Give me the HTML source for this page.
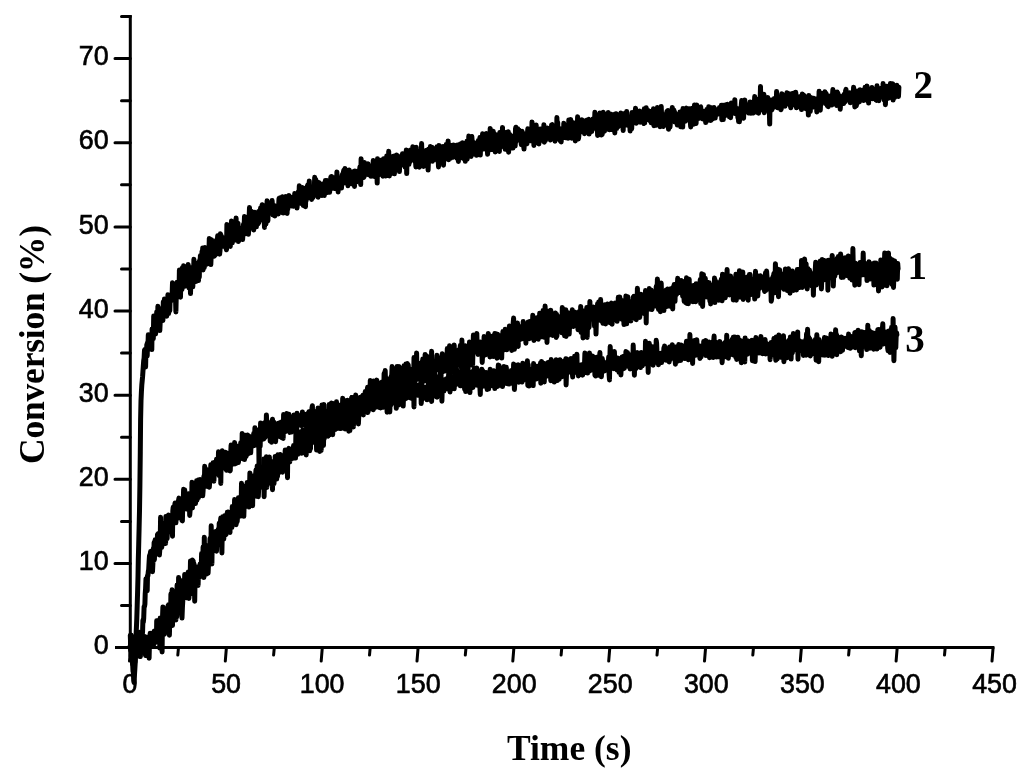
<!DOCTYPE html>
<html lang="en"><head><meta charset="utf-8"><title>Conversion vs Time</title>
<style>
html,body{margin:0;padding:0;background:#fff;}
svg{display:block}
.tk{font-family:"Liberation Sans",sans-serif;font-size:26.8px;fill:#000;stroke:#000;stroke-width:0.65px}
.lb{font-family:"Liberation Serif",serif;font-weight:bold;fill:#000}
.ax{stroke:#000;stroke-width:3;fill:none;stroke-linecap:butt}
.ax .t{stroke-width:3.0;stroke-linecap:round}
.cv{stroke:#000;stroke-width:5;fill:none;stroke-linejoin:round;stroke-linecap:round}
</style></head><body>
<svg width="1024" height="774" viewBox="0 0 1024 774">
<rect width="1024" height="774" fill="#fff"/>
<g class="ax">
<path d="M130.3,15.1 V649.1"/>
<path d="M115.0,647.6 H994.3"/>
<path class="t" d="M121.5,605.5 H130.3 M115,563.5 H130.3 M121.5,521.4 H130.3 M115,479.3 H130.3 M121.5,437.2 H130.3 M115,395.2 H130.3 M121.5,353.1 H130.3 M115,311.0 H130.3 M121.5,269.0 H130.3 M115,226.9 H130.3 M121.5,184.8 H130.3 M115,142.8 H130.3 M121.5,100.7 H130.3 M115,58.6 H130.3 M121.5,16.6 H130.3"/>
<path class="t" d="M130.6,647.6 L129.5,661.1 M178.5,647.6 L177.8,655.1 M226.4,647.6 L225.3,661.1 M274.3,647.6 L273.6,655.1 M322.3,647.6 L321.2,661.1 M370.2,647.6 L369.5,655.1 M418.1,647.6 L417.0,661.1 M466.0,647.6 L465.3,655.1 M513.9,647.6 L512.8,661.1 M561.8,647.6 L561.1,655.1 M609.8,647.6 L608.7,661.1 M657.7,647.6 L657.0,655.1 M705.6,647.6 L704.5,661.1 M753.5,647.6 L752.8,655.1 M801.4,647.6 L800.3,661.1 M849.3,647.6 L848.6,655.1 M897.2,647.6 L896.1,661.1 M945.2,647.6 L944.5,655.1 M993.1,647.6 L992.0,661.1"/>
</g>
<g class="tk" text-anchor="end">
<text x="108.6" y="654.2">0</text>
<text x="108.6" y="570.1">10</text>
<text x="108.6" y="485.9">20</text>
<text x="108.6" y="401.8">30</text>
<text x="108.6" y="317.6">40</text>
<text x="108.6" y="233.5">50</text>
<text x="108.6" y="149.4">60</text>
<text x="108.6" y="65.2">70</text>
</g>
<g class="tk" text-anchor="middle">
<text x="130.0" y="692.6">0</text>
<text x="226.1" y="692.6">50</text>
<text x="322.1" y="692.6">100</text>
<text x="418.2" y="692.6">150</text>
<text x="514.2" y="692.6">200</text>
<text x="610.2" y="692.6">250</text>
<text x="706.3" y="692.6">300</text>
<text x="802.4" y="692.6">350</text>
<text x="898.4" y="692.6">400</text>
<text x="994.5" y="692.6">450</text>
</g>
<text class="lb" font-size="35.5" text-anchor="middle" x="569.2" y="760.4">Time (s)</text>
<text class="lb" font-size="35.5" letter-spacing="-0.2" text-anchor="middle" transform="translate(43.6,344.6) rotate(-90)">Conversion (%)</text>
<text class="lb" font-size="39" x="913.5" y="97.8">2</text>
<text class="lb" font-size="39" x="907.5" y="279.3">1</text>
<text class="lb" font-size="39" x="905.2" y="352.0">3</text>
<g class="cv">
<path d="M130.3,646.5 L130.7,643.0 L131.1,644.8 L131.4,650.3 L131.8,659.1 L132.2,654.9 L132.6,662.3 L133.0,671.1 L133.4,672.7 L133.7,680.6 L134.1,682.4 L134.5,674.5 L134.9,668.2 L135.3,661.4 L135.7,651.5 L136.0,643.7 L136.4,648.4 L136.8,647.4 L137.2,651.6 L137.6,647.3 L138.0,646.6 L138.3,650.1 L138.7,649.9 L139.1,654.3 L139.5,646.0 L139.9,656.3 L140.3,652.6 L140.6,647.4 L141.0,637.6 L141.4,641.1 L141.8,636.5 L142.2,635.5 L142.6,631.2 L142.9,620.3 L143.3,622.2 L143.7,618.5 L144.1,606.7 L144.5,606.5 L144.9,604.1 L145.2,594.0 L145.6,588.3 L146.0,578.7 L146.4,578.9 L146.8,582.2 L147.2,590.8 L147.5,575.5 L147.9,575.9 L148.3,571.4 L148.7,569.5 L149.1,561.8 L149.5,555.6 L149.8,570.2 L150.2,554.7 L150.6,551.6 L151.0,555.4 L151.4,565.1 L151.8,555.4 L152.1,557.0 L152.5,571.7 L152.9,563.3 L153.3,548.4 L153.7,560.7 L154.1,542.5 L154.4,559.8 L154.8,546.4 L155.2,539.7 L155.6,551.2 L156.0,544.0 L156.4,542.5 L156.7,540.1 L157.1,545.2 L157.5,534.5 L157.9,534.0 L158.3,554.3 L158.7,543.1 L159.0,535.6 L159.4,555.0 L159.8,549.6 L160.2,540.8 L160.6,517.3 L161.0,531.1 L161.3,543.5 L161.7,547.4 L162.1,544.2 L162.5,536.8 L162.9,532.2 L163.3,523.8 L163.6,540.8 L164.0,529.9 L164.4,534.6 L164.8,522.9 L165.2,533.2 L165.6,543.4 L165.9,516.4 L166.3,527.5 L166.7,533.2 L167.1,538.6 L167.5,528.0 L167.9,520.3 L168.2,532.3 L168.6,514.9 L169.0,526.2 L169.4,528.2 L169.8,523.5 L170.2,527.3 L170.5,526.9 L170.9,519.6 L171.3,519.8 L171.7,527.5 L172.1,522.8 L172.5,536.2 L172.8,510.9 L173.2,507.2 L173.6,521.6 L174.0,513.1 L174.4,513.2 L174.8,504.7 L175.1,503.0 L175.5,515.4 L175.9,522.8 L176.3,510.9 L176.7,514.1 L177.1,508.2 L177.4,518.4 L177.8,510.1 L178.2,508.3 L178.6,500.1 L179.0,498.1 L179.4,512.0 L179.7,515.5 L180.1,511.9 L180.5,509.4 L180.9,503.7 L181.3,506.0 L181.7,514.3 L182.0,520.6 L182.4,520.8 L182.8,502.1 L183.2,502.7 L183.6,489.2 L184.0,507.2 L184.3,506.4 L184.7,489.8 L185.1,498.3 L185.5,505.7 L185.9,506.3 L186.3,509.0 L186.6,494.9 L187.0,500.2 L187.4,494.5 L187.8,504.8 L188.2,497.1 L188.6,493.7 L188.9,494.9 L189.3,501.3 L189.7,515.4 L190.1,510.4 L190.5,499.2 L190.9,502.9 L191.2,494.7 L191.6,503.2 L192.0,482.2 L192.4,508.0 L192.8,494.3 L193.2,498.7 L193.5,495.0 L193.9,499.6 L194.3,495.0 L194.7,483.8 L195.1,500.4 L195.5,503.4 L195.8,486.4 L196.2,495.6 L196.6,480.7 L197.0,500.3 L197.4,485.9 L197.8,481.0 L198.1,480.1 L198.5,497.7 L198.9,489.5 L199.3,489.6 L199.7,485.5 L200.1,479.5 L200.4,482.4 L200.8,492.7 L201.2,486.5 L201.6,483.5 L202.0,481.6 L202.4,487.2 L202.7,495.8 L203.1,490.8 L203.5,481.7 L203.9,476.2 L204.3,486.7 L204.7,466.3 L205.0,478.6 L205.4,473.0 L205.8,474.4 L206.2,469.3 L206.6,483.0 L207.0,485.5 L207.3,476.8 L207.7,486.6 L208.1,475.4 L208.5,470.3 L208.9,486.0 L209.3,487.2 L209.6,483.5 L210.0,478.6 L210.4,474.1 L210.8,464.8 L211.2,480.5 L211.6,480.3 L211.9,479.3 L212.3,474.9 L212.7,480.0 L213.1,462.7 L213.5,468.5 L213.9,481.2 L214.2,473.6 L214.6,468.2 L215.0,462.2 L215.4,474.4 L215.8,464.7 L216.2,463.3 L216.5,459.3 L216.9,470.6 L217.3,468.9 L217.7,473.8 L218.1,468.8 L218.5,451.7 L218.8,467.2 L219.2,475.7 L219.6,463.1 L220.0,471.4 L220.4,454.5 L220.8,483.4 L221.1,463.2 L221.5,463.8 L221.9,455.8 L222.3,450.7 L222.7,456.1 L223.1,468.1 L223.4,461.9 L223.8,458.2 L224.2,454.1 L224.6,455.4 L225.0,465.5 L225.4,465.1 L225.7,452.3 L226.1,468.4 L226.5,470.3 L226.9,467.6 L227.3,465.4 L227.7,454.1 L228.0,459.4 L228.4,461.6 L228.8,453.2 L229.2,454.5 L229.6,454.2 L230.0,470.9 L230.3,470.2 L230.7,453.4 L231.1,445.1 L231.5,454.2 L231.9,453.5 L232.3,462.7 L232.6,464.2 L233.0,451.3 L233.4,449.2 L233.8,452.2 L234.2,458.8 L234.6,442.5 L234.9,464.0 L235.3,451.4 L235.7,452.6 L236.1,463.5 L236.5,460.6 L236.9,445.9 L237.2,446.2 L237.6,458.9 L238.0,447.8 L238.4,462.4 L238.8,458.4 L239.2,457.8 L239.5,450.1 L239.9,453.5 L240.3,457.8 L240.7,442.8 L241.1,444.5 L241.5,453.7 L241.8,457.6 L242.2,433.4 L242.6,447.4 L243.0,458.9 L243.4,449.9 L243.8,445.7 L244.1,438.6 L244.5,459.6 L244.9,444.8 L245.3,435.2 L245.7,452.5 L246.1,456.4 L246.4,453.9 L246.8,445.1 L247.2,438.4 L247.6,435.0 L248.0,450.7 L248.4,453.7 L248.7,448.3 L249.1,443.1 L249.5,445.5 L249.9,436.4 L250.3,446.9 L250.7,452.8 L251.0,444.9 L251.4,442.2 L251.8,441.7 L252.2,445.2 L252.6,446.2 L253.0,439.2 L253.3,444.2 L253.7,433.6 L254.1,439.6 L254.5,445.4 L254.9,427.8 L255.3,435.7 L255.6,434.7 L256.0,440.6 L256.4,439.5 L256.8,431.1 L257.2,438.7 L257.6,439.1 L257.9,435.7 L258.3,434.4 L258.7,435.7 L259.1,473.6 L259.5,429.4 L259.9,443.7 L260.2,446.1 L260.6,422.9 L261.0,434.8 L261.4,426.9 L261.8,439.6 L262.2,434.1 L262.5,434.2 L262.9,424.1 L263.3,434.9 L263.7,438.9 L264.1,423.6 L264.5,422.9 L264.8,425.1 L265.2,437.4 L265.6,435.1 L266.0,434.1 L266.4,414.9 L266.8,423.7 L267.1,429.8 L267.5,428.0 L267.9,427.2 L268.3,429.7 L268.7,428.0 L269.1,422.8 L269.4,425.7 L269.8,428.3 L270.2,441.1 L270.6,430.9 L271.0,427.9 L271.4,442.3 L271.7,433.3 L272.1,421.1 L272.5,419.2 L272.9,425.7 L273.3,438.1 L273.7,422.0 L274.0,425.7 L274.4,426.1 L274.8,434.0 L275.2,433.5 L275.6,441.7 L276.0,434.6 L276.3,432.6 L276.7,427.5 L277.1,432.1 L277.5,429.1 L277.9,433.0 L278.3,423.2 L278.6,426.8 L279.0,428.1 L279.4,436.4 L279.8,424.4 L280.2,422.7 L280.6,427.1 L280.9,426.6 L281.3,422.1 L281.7,437.8 L282.1,426.0 L282.5,424.6 L282.9,423.2 L283.2,438.4 L283.6,414.6 L284.0,429.8 L284.4,422.7 L284.8,422.5 L285.2,431.7 L285.5,423.8 L285.9,426.0 L286.3,417.7 L286.7,413.5 L287.1,425.8 L287.5,418.3 L287.8,430.7 L288.2,423.8 L288.6,420.6 L289.0,414.2 L289.4,430.9 L289.8,432.4 L290.1,428.4 L290.5,429.9 L290.9,427.3 L291.3,419.4 L291.7,432.1 L292.1,421.0 L292.4,421.6 L292.8,427.8 L293.2,423.6 L293.6,430.7 L294.0,415.0 L294.4,416.0 L294.7,417.9 L295.1,424.2 L295.5,425.0 L295.9,420.7 L296.3,420.5 L296.7,430.2 L297.0,413.2 L297.4,417.8 L297.8,422.0 L298.2,419.6 L298.6,423.6 L299.0,415.6 L299.3,421.0 L299.7,420.4 L300.1,417.4 L300.5,420.1 L300.9,425.4 L301.3,423.4 L301.6,418.2 L302.0,425.4 L302.4,411.9 L302.8,418.0 L303.2,418.7 L303.6,415.0 L303.9,421.9 L304.3,417.6 L304.7,417.3 L305.1,415.0 L305.5,419.5 L305.9,424.0 L306.2,414.2 L306.6,430.0 L307.0,423.5 L307.4,421.8 L307.8,424.0 L308.2,419.1 L308.5,413.5 L308.9,411.7 L309.3,419.5 L309.7,421.7 L310.1,430.6 L310.5,418.3 L310.8,416.4 L311.2,425.7 L311.6,418.9 L312.0,407.9 L312.4,405.8 L312.8,422.0 L313.1,420.3 L313.5,421.7 L313.9,417.1 L314.3,419.1 L314.7,411.5 L315.1,412.9 L315.4,416.6 L315.8,424.1 L316.2,423.6 L316.6,425.6 L317.0,421.0 L317.4,415.6 L317.7,422.0 L318.1,407.9 L318.5,422.8 L318.9,415.7 L319.3,409.6 L319.7,417.1 L320.0,427.0 L320.4,413.1 L320.8,418.1 L321.2,417.9 L321.6,419.4 L322.0,404.9 L322.3,412.9 L322.7,411.8 L323.1,421.8 L323.5,417.6 L323.9,404.6 L324.3,418.5 L324.6,412.1 L325.0,412.1 L325.4,412.1 L325.8,422.3 L326.2,416.9 L326.6,427.5 L326.9,411.3 L327.3,416.6 L327.7,421.3 L328.1,422.4 L328.5,419.8 L328.9,425.0 L329.2,404.6 L329.6,419.2 L330.0,422.7 L330.4,408.6 L330.8,416.6 L331.2,420.2 L331.5,403.1 L331.9,421.7 L332.3,414.1 L332.7,412.7 L333.1,403.5 L333.5,412.1 L333.8,412.4 L334.2,416.1 L334.6,420.7 L335.0,414.1 L335.4,418.0 L335.8,416.6 L336.1,421.1 L336.5,401.8 L336.9,408.9 L337.3,411.5 L337.7,405.6 L338.1,407.5 L338.4,408.7 L338.8,418.2 L339.2,418.1 L339.6,419.4 L340.0,406.0 L340.4,420.8 L340.7,415.3 L341.1,409.1 L341.5,420.6 L341.9,417.8 L342.3,413.1 L342.7,398.3 L343.0,417.4 L343.4,404.5 L343.8,414.0 L344.2,416.1 L344.6,409.3 L345.0,405.3 L345.3,413.7 L345.7,406.9 L346.1,403.7 L346.5,409.0 L346.9,401.9 L347.3,405.6 L347.6,400.3 L348.0,413.8 L348.4,411.2 L348.8,417.6 L349.2,412.5 L349.6,400.6 L349.9,412.4 L350.3,409.6 L350.7,407.2 L351.1,401.2 L351.5,420.3 L351.9,397.6 L352.2,421.3 L352.6,423.7 L353.0,404.8 L353.4,409.3 L353.8,400.1 L354.2,407.3 L354.5,400.8 L354.9,409.7 L355.3,412.6 L355.7,411.3 L356.1,400.7 L356.5,415.9 L356.8,417.0 L357.2,403.6 L357.6,412.6 L358.0,411.1 L358.4,402.0 L358.8,406.2 L359.1,409.7 L359.5,414.1 L359.9,411.5 L360.3,405.8 L360.7,409.5 L361.1,404.9 L361.4,414.0 L361.8,410.0 L362.2,403.6 L362.6,409.1 L363.0,395.3 L363.4,414.9 L363.7,409.4 L364.1,405.3 L364.5,410.3 L364.9,411.9 L365.3,400.5 L365.7,409.6 L366.0,407.6 L366.4,404.6 L366.8,403.7 L367.2,408.4 L367.6,412.5 L368.0,405.7 L368.3,411.4 L368.7,403.8 L369.1,406.2 L369.5,407.0 L369.9,408.9 L370.3,403.6 L370.6,408.5 L371.0,389.5 L371.4,390.4 L371.8,405.7 L372.2,395.1 L372.6,402.4 L372.9,405.7 L373.3,409.7 L373.7,406.8 L374.1,390.6 L374.5,406.5 L374.9,405.1 L375.2,407.6 L375.6,402.9 L376.0,391.5 L376.4,402.8 L376.8,398.2 L377.2,390.0 L377.5,394.6 L377.9,398.1 L378.3,397.5 L378.7,397.5 L379.1,407.5 L379.5,401.5 L379.8,401.3 L380.2,394.1 L380.6,407.9 L381.0,404.7 L381.4,389.2 L381.8,407.5 L382.1,397.5 L382.5,395.7 L382.9,399.7 L383.3,407.3 L383.7,399.2 L384.1,405.0 L384.4,393.4 L384.8,399.1 L385.2,387.6 L385.6,407.1 L386.0,390.3 L386.4,405.9 L386.7,385.8 L387.1,412.2 L387.5,384.6 L387.9,389.7 L388.3,402.7 L388.7,399.8 L389.0,402.6 L389.4,399.6 L389.8,412.0 L390.2,396.0 L390.6,392.4 L391.0,404.7 L391.3,400.9 L391.7,395.6 L392.1,403.2 L392.5,395.6 L392.9,401.9 L393.3,390.6 L393.6,390.7 L394.0,395.9 L394.4,396.5 L394.8,398.8 L395.2,397.0 L395.6,400.6 L395.9,397.3 L396.3,408.3 L396.7,404.7 L397.1,398.5 L397.5,399.2 L397.9,399.5 L398.2,405.3 L398.6,383.6 L399.0,391.5 L399.4,392.8 L399.8,396.3 L400.2,396.8 L400.5,404.3 L400.9,388.9 L401.3,395.3 L401.7,396.0 L402.1,390.2 L402.5,398.3 L402.8,387.5 L403.2,406.1 L403.6,393.7 L404.0,392.7 L404.4,389.1 L404.8,399.0 L405.1,397.1 L405.5,375.9 L405.9,396.0 L406.3,398.3 L406.7,381.7 L407.1,384.6 L407.4,390.8 L407.8,387.6 L408.2,389.3 L408.6,390.9 L409.0,388.0 L409.4,384.6 L409.7,397.7 L410.1,394.5 L410.5,393.2 L410.9,391.1 L411.3,387.2 L411.7,398.4 L412.0,397.5 L412.4,386.2 L412.8,389.0 L413.2,385.4 L413.6,386.1 L414.0,406.9 L414.3,385.7 L414.7,388.1 L415.1,390.1 L415.5,387.0 L415.9,392.7 L416.3,385.3 L416.6,391.1 L417.0,390.9 L417.4,393.4 L417.8,395.3 L418.2,392.4 L418.6,394.9 L418.9,391.8 L419.3,384.8 L419.7,385.9 L420.1,389.4 L420.5,383.4 L420.9,384.9 L421.2,403.6 L421.6,399.3 L422.0,394.8 L422.4,390.0 L422.8,387.5 L423.2,393.4 L423.5,394.8 L423.9,395.6 L424.3,388.2 L424.7,392.1 L425.1,387.3 L425.5,397.3 L425.8,398.5 L426.2,392.7 L426.6,391.7 L427.0,399.8 L427.4,388.1 L427.8,394.5 L428.1,388.3 L428.5,380.9 L428.9,394.1 L429.3,390.4 L429.7,396.5 L430.1,392.6 L430.4,390.8 L430.8,385.1 L431.2,399.8 L431.6,401.4 L432.0,390.5 L432.4,390.8 L432.7,390.8 L433.1,396.3 L433.5,389.1 L433.9,379.5 L434.3,388.2 L434.7,380.8 L435.0,395.7 L435.4,383.4 L435.8,393.0 L436.2,388.6 L436.6,376.5 L437.0,397.3 L437.3,380.4 L437.7,390.8 L438.1,389.8 L438.5,390.3 L438.9,386.0 L439.3,377.1 L439.6,392.1 L440.0,379.9 L440.4,380.6 L440.8,369.3 L441.2,389.4 L441.6,388.4 L441.9,401.3 L442.3,386.7 L442.7,388.5 L443.1,382.1 L443.5,381.4 L443.9,391.1 L444.2,385.7 L444.6,386.9 L445.0,379.5 L445.4,380.4 L445.8,389.1 L446.2,385.3 L446.5,378.7 L446.9,381.5 L447.3,385.6 L447.7,384.3 L448.1,381.5 L448.5,377.4 L448.8,370.8 L449.2,387.7 L449.6,371.5 L450.0,391.9 L450.4,388.0 L450.8,377.8 L451.1,381.5 L451.5,377.0 L451.9,382.2 L452.3,383.5 L452.7,379.6 L453.1,383.1 L453.4,388.0 L453.8,376.5 L454.2,388.8 L454.6,380.8 L455.0,385.2 L455.4,382.2 L455.7,377.0 L456.1,379.6 L456.5,368.9 L456.9,373.0 L457.3,378.2 L457.7,373.5 L458.0,383.8 L458.4,371.9 L458.8,384.4 L459.2,379.3 L459.6,375.1 L460.0,379.9 L460.3,385.8 L460.7,381.8 L461.1,385.7 L461.5,382.6 L461.9,376.1 L462.3,371.3 L462.6,371.2 L463.0,378.9 L463.4,385.5 L463.8,379.5 L464.2,377.6 L464.6,389.2 L464.9,383.7 L465.3,366.4 L465.7,391.6 L466.1,380.1 L466.5,369.8 L466.9,385.6 L467.2,383.1 L467.6,386.9 L468.0,385.6 L468.4,385.4 L468.8,371.9 L469.2,378.6 L469.5,388.4 L469.9,392.6 L470.3,383.4 L470.7,374.0 L471.1,385.1 L471.5,378.5 L471.8,384.0 L472.2,371.7 L472.6,371.6 L473.0,387.4 L473.4,382.8 L473.8,369.9 L474.1,374.0 L474.5,378.1 L474.9,368.6 L475.3,381.3 L475.7,378.7 L476.1,380.3 L476.4,384.9 L476.8,368.1 L477.2,380.6 L477.6,373.7 L478.0,385.6 L478.4,382.1 L478.7,382.2 L479.1,372.9 L479.5,380.7 L479.9,387.4 L480.3,394.5 L480.7,377.3 L481.0,373.9 L481.4,387.3 L481.8,369.3 L482.2,374.7 L482.6,370.4 L483.0,373.9 L483.3,373.3 L483.7,372.6 L484.1,382.3 L484.5,375.6 L484.9,386.2 L485.3,373.5 L485.6,374.8 L486.0,372.4 L486.4,383.4 L486.8,384.8 L487.2,389.5 L487.6,375.7 L487.9,379.6 L488.3,378.4 L488.7,388.9 L489.1,372.3 L489.5,381.5 L489.9,374.9 L490.2,369.2 L490.6,384.4 L491.0,374.8 L491.4,371.6 L491.8,383.8 L492.2,381.1 L492.5,381.5 L492.9,385.8 L493.3,372.5 L493.7,370.8 L494.1,381.0 L494.5,379.1 L494.8,388.6 L495.2,380.4 L495.6,383.0 L496.0,381.1 L496.4,382.9 L496.8,376.2 L497.1,372.2 L497.5,386.4 L497.9,376.6 L498.3,365.0 L498.7,373.7 L499.1,365.6 L499.4,382.7 L499.8,374.5 L500.2,381.4 L500.6,381.6 L501.0,385.5 L501.4,375.6 L501.7,376.5 L502.1,371.2 L502.5,386.6 L502.9,379.8 L503.3,372.8 L503.7,372.8 L504.0,366.5 L504.4,381.7 L504.8,381.4 L505.2,375.4 L505.6,383.2 L506.0,382.8 L506.3,367.3 L506.7,373.2 L507.1,379.6 L507.5,383.8 L507.9,380.1 L508.3,378.3 L508.6,379.5 L509.0,384.1 L509.4,383.0 L509.8,372.7 L510.2,383.3 L510.6,378.2 L510.9,374.8 L511.3,370.4 L511.7,371.3 L512.1,378.3 L512.5,376.9 L512.9,377.9 L513.2,384.0 L513.6,364.1 L514.0,376.2 L514.4,389.5 L514.8,382.8 L515.2,369.9 L515.5,380.4 L515.9,365.6 L516.3,373.9 L516.7,374.9 L517.1,370.4 L517.5,369.0 L517.8,380.7 L518.2,364.7 L518.6,382.2 L519.0,377.7 L519.4,380.8 L519.8,380.4 L520.1,379.8 L520.5,370.1 L520.9,376.2 L521.3,376.8 L521.7,381.3 L522.1,382.0 L522.4,369.5 L522.8,363.2 L523.2,380.3 L523.6,364.0 L524.0,372.5 L524.4,375.6 L524.7,375.2 L525.1,373.4 L525.5,372.6 L525.9,374.9 L526.3,376.2 L526.7,379.2 L527.0,378.3 L527.4,360.8 L527.8,385.4 L528.2,364.6 L528.6,379.2 L529.0,386.0 L529.3,384.3 L529.7,377.5 L530.1,378.3 L530.5,377.8 L530.9,370.6 L531.3,379.9 L531.6,375.5 L532.0,369.2 L532.4,381.6 L532.8,382.7 L533.2,385.6 L533.6,363.6 L533.9,377.0 L534.3,377.8 L534.7,374.6 L535.1,373.7 L535.5,376.3 L535.9,373.3 L536.2,379.1 L536.6,375.1 L537.0,366.3 L537.4,367.0 L537.8,369.1 L538.2,376.4 L538.5,373.2 L538.9,371.9 L539.3,368.5 L539.7,374.9 L540.1,377.3 L540.5,363.0 L540.8,383.2 L541.2,370.0 L541.6,361.4 L542.0,373.7 L542.4,371.0 L542.8,375.9 L543.1,371.0 L543.5,379.8 L543.9,372.8 L544.3,382.0 L544.7,363.4 L545.1,373.3 L545.4,365.0 L545.8,374.5 L546.2,376.3 L546.6,369.3 L547.0,371.3 L547.4,365.9 L547.7,365.3 L548.1,362.4 L548.5,371.1 L548.9,370.4 L549.3,370.2 L549.7,376.5 L550.0,374.7 L550.4,369.1 L550.8,380.7 L551.2,359.5 L551.6,378.1 L552.0,372.5 L552.3,377.3 L552.7,370.8 L553.1,372.3 L553.5,366.7 L553.9,372.3 L554.3,382.1 L554.6,380.2 L555.0,371.6 L555.4,373.7 L555.8,371.4 L556.2,359.7 L556.6,373.9 L556.9,368.6 L557.3,380.6 L557.7,377.4 L558.1,373.5 L558.5,372.9 L558.9,375.3 L559.2,379.3 L559.6,362.2 L560.0,359.7 L560.4,372.1 L560.8,375.7 L561.2,370.6 L561.5,373.6 L561.9,376.7 L562.3,365.7 L562.7,374.2 L563.1,361.4 L563.5,363.2 L563.8,366.5 L564.2,370.9 L564.6,364.4 L565.0,369.0 L565.4,361.5 L565.8,358.8 L566.1,385.0 L566.5,374.2 L566.9,373.9 L567.3,359.2 L567.7,367.2 L568.1,363.9 L568.4,371.9 L568.8,363.5 L569.2,370.1 L569.6,365.3 L570.0,362.5 L570.4,369.6 L570.7,365.9 L571.1,358.6 L571.5,372.7 L571.9,367.2 L572.3,372.5 L572.7,376.9 L573.0,359.8 L573.4,373.4 L573.8,360.6 L574.2,371.8 L574.6,356.3 L575.0,370.9 L575.3,370.9 L575.7,362.8 L576.1,360.5 L576.5,371.6 L576.9,354.2 L577.3,372.6 L577.6,372.6 L578.0,366.0 L578.4,375.9 L578.8,373.8 L579.2,370.4 L579.6,366.5 L579.9,374.4 L580.3,374.5 L580.7,367.2 L581.1,374.2 L581.5,364.8 L581.9,369.3 L582.2,374.3 L582.6,375.1 L583.0,365.8 L583.4,368.1 L583.8,366.7 L584.2,365.0 L584.5,364.9 L584.9,353.1 L585.3,372.5 L585.7,357.9 L586.1,360.9 L586.5,369.9 L586.8,370.1 L587.2,366.0 L587.6,373.1 L588.0,354.9 L588.4,356.5 L588.8,371.4 L589.1,364.8 L589.5,353.1 L589.9,368.7 L590.3,370.5 L590.7,362.7 L591.1,363.6 L591.4,367.3 L591.8,365.3 L592.2,369.3 L592.6,356.0 L593.0,364.9 L593.4,365.1 L593.7,359.6 L594.1,370.2 L594.5,357.3 L594.9,375.1 L595.3,369.9 L595.7,376.1 L596.0,374.5 L596.4,369.5 L596.8,367.6 L597.2,371.6 L597.6,357.0 L598.0,361.4 L598.3,364.1 L598.7,375.3 L599.1,363.2 L599.5,357.9 L599.9,352.6 L600.3,364.2 L600.6,369.8 L601.0,372.1 L601.4,376.7 L601.8,367.0 L602.2,358.4 L602.6,361.7 L602.9,361.0 L603.3,364.3 L603.7,370.8 L604.1,363.7 L604.5,370.9 L604.9,365.3 L605.2,368.9 L605.6,365.0 L606.0,365.7 L606.4,369.1 L606.8,364.7 L607.2,366.7 L607.5,361.8 L607.9,361.2 L608.3,363.2 L608.7,357.0 L609.1,374.8 L609.5,379.9 L609.8,360.4 L610.2,346.6 L610.6,355.0 L611.0,354.0 L611.4,359.3 L611.7,362.2 L612.1,363.3 L612.5,357.5 L612.9,365.9 L613.3,367.3 L613.7,362.4 L614.0,368.8 L614.4,351.6 L614.8,362.0 L615.2,358.1 L615.6,360.1 L616.0,359.4 L616.3,365.6 L616.7,366.4 L617.1,369.9 L617.5,357.9 L617.9,362.1 L618.3,359.1 L618.6,360.2 L619.0,372.3 L619.4,369.2 L619.8,358.7 L620.2,362.2 L620.6,362.3 L620.9,374.9 L621.3,362.0 L621.7,364.5 L622.1,357.1 L622.5,365.9 L622.9,357.3 L623.2,356.7 L623.6,368.7 L624.0,360.3 L624.4,368.1 L624.8,357.9 L625.2,364.0 L625.5,366.3 L625.9,351.6 L626.3,365.5 L626.7,356.9 L627.1,362.3 L627.5,352.6 L627.8,364.2 L628.2,354.9 L628.6,354.3 L629.0,355.0 L629.4,367.5 L629.8,361.8 L630.1,369.0 L630.5,359.7 L630.9,364.0 L631.3,355.8 L631.7,361.8 L632.1,367.7 L632.4,357.3 L632.8,366.3 L633.2,345.0 L633.6,356.0 L634.0,360.1 L634.4,375.2 L634.7,361.0 L635.1,352.8 L635.5,356.6 L635.9,368.6 L636.3,365.6 L636.7,362.0 L637.0,354.2 L637.4,352.6 L637.8,358.9 L638.2,358.1 L638.6,354.1 L639.0,362.5 L639.3,361.0 L639.7,361.2 L640.1,363.4 L640.5,367.5 L640.9,360.7 L641.3,352.6 L641.6,353.7 L642.0,365.5 L642.4,365.6 L642.8,358.7 L643.2,353.4 L643.6,359.4 L643.9,362.5 L644.3,363.1 L644.7,359.5 L645.1,363.8 L645.5,341.2 L645.9,356.9 L646.2,349.5 L646.6,362.0 L647.0,350.5 L647.4,360.7 L647.8,351.2 L648.2,372.5 L648.5,353.2 L648.9,351.0 L649.3,343.3 L649.7,364.0 L650.1,352.9 L650.5,354.9 L650.8,349.7 L651.2,349.9 L651.6,361.7 L652.0,355.3 L652.4,361.9 L652.8,346.7 L653.1,365.2 L653.5,352.6 L653.9,350.5 L654.3,362.6 L654.7,360.5 L655.1,350.2 L655.4,357.3 L655.8,361.3 L656.2,340.3 L656.6,343.2 L657.0,353.2 L657.4,360.6 L657.7,355.8 L658.1,358.5 L658.5,364.8 L658.9,361.4 L659.3,357.8 L659.7,362.8 L660.0,353.5 L660.4,353.7 L660.8,357.9 L661.2,354.9 L661.6,362.5 L662.0,356.3 L662.3,352.7 L662.7,355.3 L663.1,355.4 L663.5,355.6 L663.9,347.8 L664.3,353.1 L664.6,346.0 L665.0,357.0 L665.4,357.0 L665.8,350.1 L666.2,360.3 L666.6,353.1 L666.9,360.1 L667.3,353.8 L667.7,348.6 L668.1,357.7 L668.5,348.2 L668.9,352.4 L669.2,361.9 L669.6,347.1 L670.0,356.5 L670.4,359.6 L670.8,354.1 L671.2,357.8 L671.5,350.0 L671.9,350.1 L672.3,344.7 L672.7,357.1 L673.1,351.8 L673.5,351.7 L673.8,356.4 L674.2,355.4 L674.6,356.4 L675.0,354.3 L675.4,364.2 L675.8,349.6 L676.1,358.5 L676.5,346.8 L676.9,355.9 L677.3,359.7 L677.7,361.2 L678.1,356.1 L678.4,349.9 L678.8,344.5 L679.2,350.6 L679.6,353.1 L680.0,355.2 L680.4,353.9 L680.7,360.4 L681.1,345.1 L681.5,346.4 L681.9,345.5 L682.3,354.5 L682.7,349.2 L683.0,351.8 L683.4,348.3 L683.8,349.3 L684.2,355.0 L684.6,355.5 L685.0,358.6 L685.3,350.6 L685.7,354.2 L686.1,345.3 L686.5,341.3 L686.9,342.8 L687.3,351.8 L687.6,349.7 L688.0,357.5 L688.4,359.8 L688.8,344.0 L689.2,347.4 L689.6,349.6 L689.9,334.6 L690.3,350.3 L690.7,346.6 L691.1,356.4 L691.5,348.6 L691.9,357.4 L692.2,348.6 L692.6,363.5 L693.0,347.4 L693.4,354.4 L693.8,348.0 L694.2,351.5 L694.5,340.5 L694.9,340.9 L695.3,347.3 L695.7,353.4 L696.1,355.1 L696.5,348.5 L696.8,339.8 L697.2,347.1 L697.6,345.9 L698.0,350.2 L698.4,352.2 L698.8,352.1 L699.1,354.8 L699.5,346.1 L699.9,358.4 L700.3,349.3 L700.7,357.1 L701.1,356.9 L701.4,345.9 L701.8,350.3 L702.2,348.5 L702.6,348.3 L703.0,346.0 L703.4,351.3 L703.7,341.5 L704.1,348.9 L704.5,342.7 L704.9,351.2 L705.3,348.1 L705.7,340.4 L706.0,355.6 L706.4,347.0 L706.8,346.6 L707.2,354.9 L707.6,343.5 L708.0,350.6 L708.3,342.6 L708.7,346.7 L709.1,342.0 L709.5,357.8 L709.9,342.6 L710.3,346.1 L710.6,350.1 L711.0,342.7 L711.4,352.6 L711.8,354.6 L712.2,343.8 L712.6,351.1 L712.9,352.2 L713.3,357.5 L713.7,341.1 L714.1,336.1 L714.5,357.0 L714.9,344.3 L715.2,356.7 L715.6,344.6 L716.0,342.1 L716.4,357.0 L716.8,352.3 L717.2,343.7 L717.5,351.2 L717.9,355.7 L718.3,349.7 L718.7,356.7 L719.1,352.7 L719.5,348.1 L719.8,341.4 L720.2,347.8 L720.6,343.0 L721.0,352.8 L721.4,356.0 L721.8,355.0 L722.1,362.7 L722.5,356.9 L722.9,349.4 L723.3,351.4 L723.7,351.7 L724.1,357.2 L724.4,350.6 L724.8,343.8 L725.2,342.4 L725.6,355.6 L726.0,348.4 L726.4,352.2 L726.7,335.2 L727.1,347.1 L727.5,354.2 L727.9,340.9 L728.3,358.3 L728.7,353.1 L729.0,348.4 L729.4,353.6 L729.8,349.3 L730.2,351.8 L730.6,353.9 L731.0,346.6 L731.3,354.2 L731.7,351.6 L732.1,339.5 L732.5,354.7 L732.9,341.4 L733.3,337.2 L733.6,343.8 L734.0,339.5 L734.4,350.0 L734.8,336.9 L735.2,343.2 L735.6,356.9 L735.9,355.3 L736.3,345.5 L736.7,359.5 L737.1,350.7 L737.5,341.6 L737.9,337.2 L738.2,345.3 L738.6,351.7 L739.0,347.1 L739.4,357.1 L739.8,342.1 L740.2,350.0 L740.5,340.4 L740.9,355.6 L741.3,362.7 L741.7,360.6 L742.1,348.6 L742.5,352.6 L742.8,352.5 L743.2,346.6 L743.6,347.9 L744.0,347.7 L744.4,344.6 L744.8,361.9 L745.1,338.0 L745.5,352.3 L745.9,350.0 L746.3,342.7 L746.7,343.5 L747.1,346.7 L747.4,354.2 L747.8,343.4 L748.2,341.0 L748.6,350.4 L749.0,347.2 L749.4,346.8 L749.7,353.0 L750.1,347.2 L750.5,350.4 L750.9,342.7 L751.3,341.9 L751.7,351.5 L752.0,340.3 L752.4,360.8 L752.8,350.8 L753.2,353.6 L753.6,356.4 L754.0,343.0 L754.3,343.8 L754.7,356.1 L755.1,361.6 L755.5,349.8 L755.9,337.5 L756.3,349.1 L756.6,349.5 L757.0,350.3 L757.4,340.8 L757.8,348.8 L758.2,352.6 L758.6,346.5 L758.9,353.1 L759.3,345.1 L759.7,351.8 L760.1,346.9 L760.5,352.6 L760.9,336.5 L761.2,343.6 L761.6,344.5 L762.0,344.9 L762.4,353.7 L762.8,339.7 L763.2,348.8 L763.5,345.4 L763.9,345.7 L764.3,344.2 L764.7,349.4 L765.1,339.6 L765.5,354.0 L765.8,351.0 L766.2,345.0 L766.6,345.0 L767.0,343.6 L767.4,345.3 L767.8,348.5 L768.1,351.5 L768.5,353.1 L768.9,347.9 L769.3,349.5 L769.7,347.6 L770.1,359.7 L770.4,353.9 L770.8,350.3 L771.2,342.5 L771.6,355.0 L772.0,349.8 L772.4,343.9 L772.7,348.3 L773.1,345.2 L773.5,351.9 L773.9,338.6 L774.3,354.1 L774.7,343.3 L775.0,339.4 L775.4,355.1 L775.8,360.2 L776.2,337.0 L776.6,344.4 L777.0,338.4 L777.3,358.9 L777.7,352.8 L778.1,348.2 L778.5,346.8 L778.9,335.1 L779.3,343.0 L779.6,344.5 L780.0,338.7 L780.4,346.8 L780.8,357.3 L781.2,341.5 L781.6,349.0 L781.9,341.7 L782.3,346.6 L782.7,350.6 L783.1,343.6 L783.5,335.7 L783.9,361.8 L784.2,345.5 L784.6,358.7 L785.0,341.5 L785.4,351.8 L785.8,345.5 L786.2,357.1 L786.5,358.0 L786.9,347.8 L787.3,342.1 L787.7,357.4 L788.1,348.1 L788.5,350.9 L788.8,340.6 L789.2,349.2 L789.6,347.3 L790.0,349.5 L790.4,336.9 L790.8,352.0 L791.1,359.1 L791.5,344.9 L791.9,353.4 L792.3,352.8 L792.7,350.0 L793.1,348.5 L793.4,333.4 L793.8,349.7 L794.2,349.8 L794.6,340.9 L795.0,345.3 L795.4,345.2 L795.7,342.8 L796.1,337.8 L796.5,344.3 L796.9,344.7 L797.3,342.1 L797.7,331.9 L798.0,359.3 L798.4,340.5 L798.8,342.8 L799.2,340.7 L799.6,342.2 L800.0,344.1 L800.3,350.5 L800.7,346.4 L801.1,350.5 L801.5,345.7 L801.9,341.8 L802.3,344.3 L802.6,342.2 L803.0,345.8 L803.4,355.5 L803.8,342.0 L804.2,342.8 L804.6,344.4 L804.9,345.8 L805.3,354.3 L805.7,339.8 L806.1,355.3 L806.5,334.0 L806.9,336.1 L807.2,338.6 L807.6,329.2 L808.0,346.7 L808.4,352.8 L808.8,337.2 L809.2,347.9 L809.5,343.3 L809.9,338.9 L810.3,355.9 L810.7,354.8 L811.1,353.7 L811.5,346.0 L811.8,345.2 L812.2,343.9 L812.6,346.7 L813.0,341.7 L813.4,351.2 L813.8,342.2 L814.1,346.6 L814.5,345.7 L814.9,353.9 L815.3,339.5 L815.7,346.8 L816.1,360.3 L816.4,347.4 L816.8,334.8 L817.2,340.3 L817.6,344.5 L818.0,342.8 L818.4,340.0 L818.7,361.7 L819.1,339.5 L819.5,352.4 L819.9,345.5 L820.3,342.4 L820.7,346.8 L821.0,352.4 L821.4,344.2 L821.8,350.2 L822.2,349.5 L822.6,346.2 L823.0,355.1 L823.3,347.9 L823.7,346.8 L824.1,342.6 L824.5,337.5 L824.9,355.2 L825.3,345.6 L825.6,351.7 L826.0,349.1 L826.4,338.1 L826.8,349.1 L827.2,350.7 L827.6,353.2 L827.9,353.2 L828.3,355.6 L828.7,346.6 L829.1,342.1 L829.5,347.5 L829.9,349.7 L830.2,340.9 L830.6,343.8 L831.0,333.9 L831.4,355.0 L831.8,352.8 L832.2,356.3 L832.5,352.4 L832.9,334.9 L833.3,339.1 L833.7,335.2 L834.1,348.0 L834.5,349.8 L834.8,346.1 L835.2,343.7 L835.6,329.7 L836.0,338.1 L836.4,334.3 L836.8,354.7 L837.1,336.1 L837.5,342.0 L837.9,349.2 L838.3,343.0 L838.7,340.3 L839.1,345.8 L839.4,348.1 L839.8,337.6 L840.2,345.3 L840.6,351.7 L841.0,341.5 L841.4,337.0 L841.7,342.0 L842.1,348.6 L842.5,350.4 L842.9,338.0 L843.3,344.7 L843.7,343.6 L844.0,340.8 L844.4,339.9 L844.8,341.5 L845.2,338.5 L845.6,342.6 L846.0,338.3 L846.3,346.5 L846.7,339.3 L847.1,340.4 L847.5,341.4 L847.9,344.7 L848.3,347.6 L848.6,334.0 L849.0,345.5 L849.4,340.6 L849.8,344.9 L850.2,348.3 L850.6,348.1 L850.9,337.2 L851.3,336.7 L851.7,344.2 L852.1,344.2 L852.5,344.4 L852.9,336.8 L853.2,336.9 L853.6,337.5 L854.0,343.0 L854.4,339.6 L854.8,332.7 L855.2,347.7 L855.5,336.3 L855.9,332.2 L856.3,337.3 L856.7,341.3 L857.1,346.4 L857.5,341.0 L857.8,342.1 L858.2,330.2 L858.6,345.0 L859.0,339.2 L859.4,350.8 L859.8,350.5 L860.1,336.2 L860.5,337.1 L860.9,350.6 L861.3,355.7 L861.7,331.7 L862.1,340.7 L862.4,345.5 L862.8,336.8 L863.2,338.5 L863.6,346.3 L864.0,343.1 L864.4,341.4 L864.7,332.6 L865.1,344.7 L865.5,336.3 L865.9,345.7 L866.3,344.6 L866.7,349.5 L867.0,345.3 L867.4,348.3 L867.8,325.3 L868.2,344.1 L868.6,337.2 L869.0,333.1 L869.3,330.4 L869.7,348.3 L870.1,346.0 L870.5,333.0 L870.9,338.3 L871.3,344.4 L871.6,339.8 L872.0,332.4 L872.4,346.3 L872.8,336.0 L873.2,342.6 L873.6,349.2 L873.9,334.2 L874.3,333.3 L874.7,340.0 L875.1,334.7 L875.5,333.5 L875.9,345.6 L876.2,345.4 L876.6,344.9 L877.0,348.9 L877.4,339.5 L877.8,329.7 L878.2,336.8 L878.5,344.4 L878.9,329.6 L879.3,337.2 L879.7,345.1 L880.1,347.2 L880.5,337.1 L880.8,343.0 L881.2,330.4 L881.6,333.4 L882.0,328.2 L882.4,328.8 L882.8,323.8 L883.1,340.2 L883.5,344.0 L883.9,334.4 L884.3,343.7 L884.7,340.8 L885.1,336.1 L885.4,333.1 L885.8,335.2 L886.2,336.6 L886.6,332.0 L887.0,335.9 L887.4,342.2 L887.7,348.4 L888.1,350.7 L888.5,344.3 L888.9,331.1 L889.3,340.7 L889.7,335.2 L890.0,352.5 L890.4,338.4 L890.8,343.6 L891.2,347.1 L891.6,327.3 L892.0,339.9 L892.3,340.4 L892.7,346.5 L893.1,318.6 L893.5,339.2 L893.9,360.7 L894.3,345.3 L894.6,335.6 L895.0,327.1 L895.4,334.4 L895.8,347.7 L896.2,335.4 L896.6,332.8 L896.9,334.8"/>
<path d="M130.3,635.3 L130.7,646.9 L131.1,656.1 L131.4,638.0 L131.8,646.4 L132.2,646.5 L132.6,664.2 L133.0,658.9 L133.4,665.2 L133.7,660.7 L134.1,652.9 L134.5,658.5 L134.9,662.1 L135.3,649.1 L135.7,645.1 L136.0,648.2 L136.4,646.1 L136.8,641.8 L137.2,633.8 L137.6,636.8 L138.0,653.3 L138.3,651.0 L138.7,641.0 L139.1,648.5 L139.5,632.3 L139.9,641.6 L140.3,656.6 L140.6,641.5 L141.0,649.1 L141.4,636.3 L141.8,646.7 L142.2,637.7 L142.6,647.7 L142.9,644.2 L143.3,650.8 L143.7,639.4 L144.1,641.8 L144.5,646.9 L144.9,636.5 L145.2,653.5 L145.6,655.5 L146.0,638.5 L146.4,645.4 L146.8,640.4 L147.2,641.0 L147.5,637.2 L147.9,642.4 L148.3,648.3 L148.7,639.5 L149.1,658.2 L149.5,641.9 L149.8,639.9 L150.2,633.2 L150.6,641.2 L151.0,639.8 L151.4,646.4 L151.8,634.0 L152.1,642.1 L152.5,641.1 L152.9,645.8 L153.3,640.0 L153.7,632.3 L154.1,644.0 L154.4,630.9 L154.8,638.1 L155.2,632.8 L155.6,638.4 L156.0,640.7 L156.4,641.9 L156.7,620.8 L157.1,623.9 L157.5,625.4 L157.9,634.7 L158.3,620.6 L158.7,620.6 L159.0,639.1 L159.4,627.0 L159.8,648.1 L160.2,618.1 L160.6,633.6 L161.0,621.9 L161.3,620.0 L161.7,626.3 L162.1,652.0 L162.5,617.8 L162.9,606.9 L163.3,609.6 L163.6,612.6 L164.0,627.6 L164.4,634.3 L164.8,612.1 L165.2,623.7 L165.6,618.2 L165.9,618.4 L166.3,624.7 L166.7,617.9 L167.1,612.4 L167.5,620.8 L167.9,606.0 L168.2,618.5 L168.6,604.8 L169.0,614.6 L169.4,635.2 L169.8,618.8 L170.2,605.3 L170.5,617.8 L170.9,594.0 L171.3,612.9 L171.7,597.7 L172.1,589.8 L172.5,625.5 L172.8,598.2 L173.2,614.8 L173.6,600.8 L174.0,613.5 L174.4,619.3 L174.8,591.5 L175.1,602.9 L175.5,612.0 L175.9,619.9 L176.3,596.3 L176.7,617.0 L177.1,585.1 L177.4,602.7 L177.8,606.7 L178.2,608.9 L178.6,577.6 L179.0,588.2 L179.4,597.0 L179.7,591.3 L180.1,580.9 L180.5,613.1 L180.9,580.4 L181.3,613.4 L181.7,614.3 L182.0,618.1 L182.4,608.0 L182.8,600.7 L183.2,581.0 L183.6,595.0 L184.0,586.1 L184.3,589.2 L184.7,574.4 L185.1,596.3 L185.5,596.0 L185.9,589.2 L186.3,597.7 L186.6,591.6 L187.0,592.4 L187.4,595.0 L187.8,573.7 L188.2,572.0 L188.6,578.7 L188.9,598.5 L189.3,590.5 L189.7,586.5 L190.1,580.4 L190.5,560.9 L190.9,571.3 L191.2,584.6 L191.6,593.4 L192.0,580.7 L192.4,560.0 L192.8,561.3 L193.2,561.1 L193.5,581.0 L193.9,563.4 L194.3,574.0 L194.7,601.2 L195.1,578.1 L195.5,568.7 L195.8,575.4 L196.2,566.7 L196.6,567.0 L197.0,568.2 L197.4,581.0 L197.8,567.6 L198.1,585.4 L198.5,572.2 L198.9,572.4 L199.3,577.6 L199.7,568.2 L200.1,564.1 L200.4,569.4 L200.8,570.6 L201.2,569.8 L201.6,553.6 L202.0,556.3 L202.4,565.2 L202.7,563.6 L203.1,547.1 L203.5,559.5 L203.9,577.6 L204.3,537.2 L204.7,566.0 L205.0,566.6 L205.4,565.5 L205.8,559.4 L206.2,545.3 L206.6,574.1 L207.0,553.9 L207.3,567.8 L207.7,567.9 L208.1,573.1 L208.5,564.3 L208.9,548.8 L209.3,548.3 L209.6,556.0 L210.0,538.6 L210.4,558.2 L210.8,556.7 L211.2,525.7 L211.6,550.1 L211.9,563.9 L212.3,536.8 L212.7,541.8 L213.1,539.6 L213.5,537.1 L213.9,542.7 L214.2,549.9 L214.6,544.9 L215.0,536.5 L215.4,544.5 L215.8,531.4 L216.2,541.1 L216.5,551.3 L216.9,532.9 L217.3,543.6 L217.7,537.2 L218.1,529.6 L218.5,544.3 L218.8,538.2 L219.2,523.3 L219.6,539.5 L220.0,530.1 L220.4,522.1 L220.8,517.9 L221.1,520.8 L221.5,543.0 L221.9,552.9 L222.3,530.1 L222.7,516.8 L223.1,539.4 L223.4,535.1 L223.8,538.9 L224.2,519.1 L224.6,515.8 L225.0,524.1 L225.4,524.7 L225.7,532.8 L226.1,534.5 L226.5,519.5 L226.9,525.0 L227.3,512.3 L227.7,532.0 L228.0,525.0 L228.4,512.1 L228.8,521.1 L229.2,532.1 L229.6,527.4 L230.0,532.4 L230.3,513.1 L230.7,522.6 L231.1,522.3 L231.5,525.2 L231.9,527.4 L232.3,506.5 L232.6,512.8 L233.0,522.9 L233.4,520.4 L233.8,521.3 L234.2,515.0 L234.6,499.6 L234.9,515.5 L235.3,499.8 L235.7,509.3 L236.1,524.8 L236.5,510.0 L236.9,516.0 L237.2,521.7 L237.6,515.5 L238.0,505.3 L238.4,497.8 L238.8,509.7 L239.2,507.8 L239.5,501.4 L239.9,506.4 L240.3,511.1 L240.7,516.1 L241.1,509.0 L241.5,483.3 L241.8,515.7 L242.2,489.8 L242.6,509.2 L243.0,507.5 L243.4,503.4 L243.8,516.3 L244.1,506.7 L244.5,504.8 L244.9,493.8 L245.3,487.9 L245.7,485.8 L246.1,506.6 L246.4,496.9 L246.8,493.7 L247.2,482.4 L247.6,488.5 L248.0,485.2 L248.4,485.8 L248.7,486.1 L249.1,507.0 L249.5,489.4 L249.9,472.9 L250.3,486.9 L250.7,488.2 L251.0,483.1 L251.4,505.4 L251.8,486.1 L252.2,487.5 L252.6,505.7 L253.0,483.9 L253.3,479.6 L253.7,493.3 L254.1,487.3 L254.5,475.4 L254.9,486.9 L255.3,482.1 L255.6,474.7 L256.0,470.0 L256.4,496.2 L256.8,481.5 L257.2,466.0 L257.6,470.4 L257.9,481.1 L258.3,496.7 L258.7,488.4 L259.1,472.1 L259.5,487.9 L259.9,481.1 L260.2,487.4 L260.6,484.6 L261.0,480.4 L261.4,476.2 L261.8,466.9 L262.2,484.5 L262.5,483.6 L262.9,477.3 L263.3,479.6 L263.7,459.1 L264.1,496.7 L264.5,479.5 L264.8,475.1 L265.2,462.3 L265.6,487.7 L266.0,475.9 L266.4,456.8 L266.8,487.4 L267.1,477.3 L267.5,474.0 L267.9,475.3 L268.3,463.7 L268.7,469.9 L269.1,464.1 L269.4,457.0 L269.8,480.0 L270.2,472.4 L270.6,476.0 L271.0,473.3 L271.4,480.0 L271.7,484.3 L272.1,476.0 L272.5,489.7 L272.9,468.2 L273.3,461.5 L273.7,478.5 L274.0,483.6 L274.4,471.5 L274.8,470.4 L275.2,456.4 L275.6,477.6 L276.0,457.8 L276.3,457.1 L276.7,479.0 L277.1,472.6 L277.5,476.5 L277.9,454.8 L278.3,457.6 L278.6,472.8 L279.0,459.6 L279.4,467.4 L279.8,456.8 L280.2,454.5 L280.6,463.7 L280.9,462.9 L281.3,468.8 L281.7,458.8 L282.1,466.0 L282.5,472.2 L282.9,457.4 L283.2,459.5 L283.6,461.0 L284.0,455.3 L284.4,459.0 L284.8,464.0 L285.2,450.1 L285.5,462.9 L285.9,458.8 L286.3,467.2 L286.7,455.0 L287.1,451.6 L287.5,477.7 L287.8,449.5 L288.2,449.9 L288.6,450.7 L289.0,448.4 L289.4,451.3 L289.8,461.9 L290.1,456.7 L290.5,454.5 L290.9,450.6 L291.3,452.7 L291.7,450.9 L292.1,458.6 L292.4,449.0 L292.8,455.3 L293.2,450.2 L293.6,445.5 L294.0,454.6 L294.4,446.3 L294.7,453.1 L295.1,454.6 L295.5,458.1 L295.9,432.8 L296.3,443.4 L296.7,449.0 L297.0,448.6 L297.4,445.4 L297.8,454.2 L298.2,448.6 L298.6,442.4 L299.0,451.0 L299.3,432.7 L299.7,432.0 L300.1,439.8 L300.5,451.9 L300.9,445.3 L301.3,447.2 L301.6,453.3 L302.0,443.5 L302.4,434.5 L302.8,429.8 L303.2,447.2 L303.6,437.4 L303.9,444.5 L304.3,442.0 L304.7,447.9 L305.1,445.7 L305.5,436.8 L305.9,440.3 L306.2,455.0 L306.6,439.8 L307.0,429.7 L307.4,434.6 L307.8,430.8 L308.2,438.6 L308.5,443.3 L308.9,445.0 L309.3,434.5 L309.7,450.8 L310.1,446.9 L310.5,448.8 L310.8,428.5 L311.2,433.0 L311.6,437.1 L312.0,442.6 L312.4,429.4 L312.8,438.5 L313.1,427.6 L313.5,432.7 L313.9,426.7 L314.3,442.3 L314.7,437.5 L315.1,428.3 L315.4,431.2 L315.8,435.9 L316.2,433.5 L316.6,450.1 L317.0,425.0 L317.4,425.3 L317.7,438.8 L318.1,442.5 L318.5,431.4 L318.9,427.7 L319.3,436.4 L319.7,451.5 L320.0,436.7 L320.4,434.8 L320.8,426.7 L321.2,450.4 L321.6,427.8 L322.0,434.4 L322.3,429.4 L322.7,421.6 L323.1,419.1 L323.5,445.4 L323.9,423.2 L324.3,438.6 L324.6,435.3 L325.0,424.4 L325.4,428.2 L325.8,432.3 L326.2,435.2 L326.6,435.3 L326.9,424.8 L327.3,425.5 L327.7,433.6 L328.1,436.2 L328.5,429.5 L328.9,425.9 L329.2,422.1 L329.6,432.4 L330.0,426.7 L330.4,434.5 L330.8,427.8 L331.2,426.5 L331.5,426.0 L331.9,429.5 L332.3,410.9 L332.7,434.8 L333.1,415.2 L333.5,405.3 L333.8,423.5 L334.2,414.2 L334.6,423.1 L335.0,429.6 L335.4,415.3 L335.8,420.0 L336.1,414.8 L336.5,426.4 L336.9,418.3 L337.3,428.4 L337.7,427.0 L338.1,419.6 L338.4,420.4 L338.8,413.9 L339.2,425.7 L339.6,424.3 L340.0,428.6 L340.4,405.0 L340.7,418.9 L341.1,428.5 L341.5,413.7 L341.9,420.1 L342.3,411.3 L342.7,419.0 L343.0,414.4 L343.4,428.1 L343.8,426.6 L344.2,423.1 L344.6,417.1 L345.0,400.7 L345.3,429.1 L345.7,412.6 L346.1,415.0 L346.5,417.5 L346.9,423.5 L347.3,424.0 L347.6,423.7 L348.0,418.2 L348.4,403.0 L348.8,431.2 L349.2,413.1 L349.6,415.2 L349.9,430.6 L350.3,414.2 L350.7,410.7 L351.1,419.7 L351.5,415.6 L351.9,397.4 L352.2,407.4 L352.6,405.7 L353.0,407.1 L353.4,426.9 L353.8,411.9 L354.2,411.9 L354.5,411.0 L354.9,403.5 L355.3,403.1 L355.7,395.0 L356.1,412.4 L356.5,404.3 L356.8,401.3 L357.2,400.1 L357.6,404.9 L358.0,404.7 L358.4,423.9 L358.8,415.3 L359.1,398.3 L359.5,408.5 L359.9,398.9 L360.3,397.2 L360.7,402.7 L361.1,404.9 L361.4,410.7 L361.8,396.8 L362.2,401.7 L362.6,413.1 L363.0,407.6 L363.4,408.0 L363.7,399.2 L364.1,402.8 L364.5,404.6 L364.9,395.6 L365.3,391.5 L365.7,396.9 L366.0,403.8 L366.4,408.8 L366.8,403.3 L367.2,390.4 L367.6,387.2 L368.0,404.8 L368.3,405.9 L368.7,402.6 L369.1,408.4 L369.5,399.0 L369.9,395.7 L370.3,380.4 L370.6,388.7 L371.0,402.5 L371.4,402.8 L371.8,392.7 L372.2,400.5 L372.6,383.5 L372.9,399.2 L373.3,389.6 L373.7,381.1 L374.1,394.0 L374.5,396.2 L374.9,390.5 L375.2,395.8 L375.6,388.5 L376.0,400.3 L376.4,382.8 L376.8,380.1 L377.2,389.1 L377.5,383.6 L377.9,395.2 L378.3,390.4 L378.7,393.9 L379.1,399.2 L379.5,388.1 L379.8,404.8 L380.2,399.8 L380.6,383.0 L381.0,393.9 L381.4,386.5 L381.8,387.7 L382.1,381.9 L382.5,386.5 L382.9,390.1 L383.3,394.3 L383.7,394.8 L384.1,373.5 L384.4,388.7 L384.8,379.4 L385.2,370.5 L385.6,383.3 L386.0,382.0 L386.4,396.9 L386.7,380.6 L387.1,393.8 L387.5,389.7 L387.9,389.1 L388.3,379.1 L388.7,388.5 L389.0,389.6 L389.4,390.7 L389.8,386.8 L390.2,388.3 L390.6,399.5 L391.0,387.1 L391.3,375.9 L391.7,376.0 L392.1,366.6 L392.5,378.8 L392.9,383.7 L393.3,386.4 L393.6,384.1 L394.0,380.9 L394.4,382.0 L394.8,372.4 L395.2,372.9 L395.6,389.3 L395.9,370.0 L396.3,371.8 L396.7,377.8 L397.1,366.5 L397.5,381.0 L397.9,374.6 L398.2,371.7 L398.6,384.0 L399.0,366.4 L399.4,386.4 L399.8,395.4 L400.2,385.8 L400.5,375.5 L400.9,378.6 L401.3,375.2 L401.7,380.8 L402.1,373.5 L402.5,388.2 L402.8,371.7 L403.2,377.6 L403.6,388.0 L404.0,365.7 L404.4,371.6 L404.8,380.8 L405.1,385.7 L405.5,370.0 L405.9,364.0 L406.3,379.8 L406.7,379.3 L407.1,374.1 L407.4,363.5 L407.8,372.5 L408.2,364.8 L408.6,370.0 L409.0,380.4 L409.4,384.6 L409.7,377.5 L410.1,377.3 L410.5,373.2 L410.9,380.7 L411.3,378.1 L411.7,369.4 L412.0,370.0 L412.4,383.9 L412.8,368.9 L413.2,381.9 L413.6,383.9 L414.0,357.5 L414.3,371.3 L414.7,372.9 L415.1,381.6 L415.5,363.1 L415.9,372.6 L416.3,374.8 L416.6,352.9 L417.0,374.5 L417.4,367.3 L417.8,371.1 L418.2,379.1 L418.6,364.4 L418.9,375.6 L419.3,374.1 L419.7,379.6 L420.1,363.2 L420.5,369.8 L420.9,367.7 L421.2,380.1 L421.6,367.0 L422.0,384.2 L422.4,365.1 L422.8,359.0 L423.2,371.0 L423.5,364.6 L423.9,367.8 L424.3,367.7 L424.7,380.7 L425.1,354.6 L425.5,360.8 L425.8,359.0 L426.2,376.2 L426.6,355.7 L427.0,368.1 L427.4,368.8 L427.8,369.7 L428.1,383.0 L428.5,360.4 L428.9,359.3 L429.3,384.2 L429.7,380.9 L430.1,367.2 L430.4,368.8 L430.8,373.7 L431.2,376.2 L431.6,351.3 L432.0,365.3 L432.4,381.2 L432.7,365.6 L433.1,361.4 L433.5,367.6 L433.9,362.9 L434.3,368.1 L434.7,377.7 L435.0,369.7 L435.4,367.3 L435.8,363.9 L436.2,369.9 L436.6,365.2 L437.0,355.3 L437.3,366.6 L437.7,365.8 L438.1,360.1 L438.5,368.7 L438.9,367.1 L439.3,358.4 L439.6,361.9 L440.0,368.6 L440.4,374.1 L440.8,376.1 L441.2,363.1 L441.6,364.0 L441.9,359.4 L442.3,353.7 L442.7,367.2 L443.1,355.3 L443.5,371.5 L443.9,358.1 L444.2,359.7 L444.6,364.8 L445.0,371.0 L445.4,363.4 L445.8,361.4 L446.2,361.3 L446.5,367.2 L446.9,362.2 L447.3,348.5 L447.7,370.2 L448.1,363.3 L448.5,365.2 L448.8,363.9 L449.2,355.8 L449.6,345.7 L450.0,370.0 L450.4,351.8 L450.8,359.1 L451.1,354.3 L451.5,353.0 L451.9,357.4 L452.3,362.8 L452.7,372.4 L453.1,350.3 L453.4,361.6 L453.8,360.3 L454.2,345.1 L454.6,358.4 L455.0,372.0 L455.4,354.0 L455.7,377.5 L456.1,360.0 L456.5,355.3 L456.9,355.1 L457.3,360.3 L457.7,354.3 L458.0,362.6 L458.4,351.7 L458.8,349.9 L459.2,363.6 L459.6,359.1 L460.0,352.8 L460.3,345.5 L460.7,366.1 L461.1,356.9 L461.5,369.2 L461.9,340.1 L462.3,360.4 L462.6,360.1 L463.0,352.8 L463.4,361.1 L463.8,353.6 L464.2,350.0 L464.6,351.5 L464.9,353.2 L465.3,345.7 L465.7,364.6 L466.1,353.4 L466.5,367.4 L466.9,346.6 L467.2,357.1 L467.6,370.9 L468.0,371.4 L468.4,360.4 L468.8,358.5 L469.2,349.1 L469.5,341.9 L469.9,354.1 L470.3,363.8 L470.7,359.4 L471.1,363.5 L471.5,353.8 L471.8,345.0 L472.2,353.7 L472.6,365.4 L473.0,348.7 L473.4,335.1 L473.8,345.0 L474.1,346.1 L474.5,350.2 L474.9,339.0 L475.3,351.2 L475.7,347.0 L476.1,349.4 L476.4,342.8 L476.8,333.4 L477.2,346.9 L477.6,346.9 L478.0,354.4 L478.4,348.7 L478.7,353.3 L479.1,346.7 L479.5,348.8 L479.9,351.9 L480.3,344.9 L480.7,342.1 L481.0,349.9 L481.4,346.2 L481.8,347.9 L482.2,362.4 L482.6,355.5 L483.0,347.0 L483.3,348.9 L483.7,347.5 L484.1,336.6 L484.5,343.8 L484.9,340.9 L485.3,354.9 L485.6,344.6 L486.0,340.9 L486.4,338.1 L486.8,353.8 L487.2,339.9 L487.6,350.0 L487.9,341.1 L488.3,333.5 L488.7,338.0 L489.1,345.0 L489.5,351.5 L489.9,356.9 L490.2,343.6 L490.6,344.8 L491.0,345.8 L491.4,344.2 L491.8,336.9 L492.2,336.4 L492.5,344.6 L492.9,348.8 L493.3,356.5 L493.7,336.0 L494.1,350.0 L494.5,340.7 L494.8,333.5 L495.2,350.6 L495.6,350.8 L496.0,333.8 L496.4,341.0 L496.8,357.7 L497.1,358.2 L497.5,334.2 L497.9,339.5 L498.3,338.2 L498.7,340.0 L499.1,339.8 L499.4,339.5 L499.8,339.5 L500.2,335.8 L500.6,351.3 L501.0,341.0 L501.4,346.6 L501.7,358.1 L502.1,337.4 L502.5,343.2 L502.9,331.6 L503.3,341.1 L503.7,336.4 L504.0,343.1 L504.4,349.8 L504.8,337.8 L505.2,329.2 L505.6,343.3 L506.0,347.0 L506.3,337.1 L506.7,349.8 L507.1,339.6 L507.5,336.4 L507.9,339.5 L508.3,345.4 L508.6,347.6 L509.0,330.5 L509.4,326.0 L509.8,339.6 L510.2,345.2 L510.6,347.5 L510.9,333.7 L511.3,341.6 L511.7,350.5 L512.1,337.7 L512.5,343.5 L512.9,331.0 L513.2,322.9 L513.6,318.1 L514.0,331.7 L514.4,349.2 L514.8,344.6 L515.2,343.1 L515.5,342.0 L515.9,324.9 L516.3,323.5 L516.7,338.0 L517.1,332.2 L517.5,323.0 L517.8,345.9 L518.2,346.3 L518.6,327.8 L519.0,340.3 L519.4,335.8 L519.8,335.1 L520.1,333.2 L520.5,339.3 L520.9,326.5 L521.3,333.2 L521.7,335.1 L522.1,338.8 L522.4,333.6 L522.8,331.5 L523.2,321.5 L523.6,325.4 L524.0,329.7 L524.4,336.7 L524.7,333.9 L525.1,332.6 L525.5,330.0 L525.9,343.2 L526.3,331.8 L526.7,334.8 L527.0,335.8 L527.4,329.9 L527.8,336.9 L528.2,321.9 L528.6,335.4 L529.0,325.5 L529.3,338.8 L529.7,321.6 L530.1,328.2 L530.5,327.2 L530.9,325.6 L531.3,327.8 L531.6,328.7 L532.0,325.3 L532.4,324.9 L532.8,315.2 L533.2,334.9 L533.6,329.4 L533.9,340.5 L534.3,324.4 L534.7,319.7 L535.1,329.4 L535.5,334.2 L535.9,321.7 L536.2,321.6 L536.6,327.1 L537.0,317.8 L537.4,329.0 L537.8,318.6 L538.2,339.3 L538.5,330.2 L538.9,328.5 L539.3,326.0 L539.7,313.2 L540.1,319.7 L540.5,333.1 L540.8,319.9 L541.2,336.7 L541.6,331.4 L542.0,324.6 L542.4,330.0 L542.8,332.5 L543.1,310.4 L543.5,321.3 L543.9,337.3 L544.3,328.5 L544.7,324.3 L545.1,306.0 L545.4,325.1 L545.8,331.6 L546.2,321.9 L546.6,321.0 L547.0,342.5 L547.4,319.2 L547.7,324.4 L548.1,327.4 L548.5,335.5 L548.9,311.0 L549.3,323.8 L549.7,325.1 L550.0,324.9 L550.4,327.5 L550.8,310.2 L551.2,330.4 L551.6,325.7 L552.0,325.2 L552.3,324.4 L552.7,335.4 L553.1,322.8 L553.5,327.6 L553.9,320.2 L554.3,314.4 L554.6,319.7 L555.0,315.7 L555.4,313.0 L555.8,326.2 L556.2,337.4 L556.6,314.2 L556.9,336.1 L557.3,329.8 L557.7,315.9 L558.1,323.9 L558.5,325.0 L558.9,322.0 L559.2,321.3 L559.6,320.9 L560.0,331.0 L560.4,323.1 L560.8,327.3 L561.2,321.0 L561.5,320.7 L561.9,332.8 L562.3,307.6 L562.7,329.9 L563.1,323.4 L563.5,323.7 L563.8,316.4 L564.2,329.3 L564.6,335.8 L565.0,318.4 L565.4,320.2 L565.8,309.8 L566.1,336.5 L566.5,324.4 L566.9,312.9 L567.3,322.2 L567.7,315.9 L568.1,312.7 L568.4,322.4 L568.8,326.9 L569.2,334.1 L569.6,323.9 L570.0,318.0 L570.4,323.9 L570.7,317.1 L571.1,325.0 L571.5,319.7 L571.9,315.8 L572.3,309.8 L572.7,316.4 L573.0,321.1 L573.4,326.5 L573.8,315.5 L574.2,313.7 L574.6,314.2 L575.0,315.8 L575.3,312.3 L575.7,321.3 L576.1,320.8 L576.5,320.9 L576.9,320.7 L577.3,319.6 L577.6,313.4 L578.0,329.8 L578.4,319.8 L578.8,313.4 L579.2,311.6 L579.6,322.3 L579.9,330.1 L580.3,321.4 L580.7,306.4 L581.1,332.5 L581.5,324.7 L581.9,326.8 L582.2,320.5 L582.6,322.4 L583.0,338.0 L583.4,317.1 L583.8,324.1 L584.2,315.0 L584.5,310.8 L584.9,320.2 L585.3,323.4 L585.7,311.8 L586.1,317.0 L586.5,315.3 L586.8,307.4 L587.2,337.4 L587.6,320.1 L588.0,324.6 L588.4,328.0 L588.8,310.1 L589.1,327.2 L589.5,315.5 L589.9,301.4 L590.3,317.6 L590.7,311.7 L591.1,318.2 L591.4,319.0 L591.8,317.5 L592.2,316.0 L592.6,313.8 L593.0,316.6 L593.4,306.9 L593.7,316.2 L594.1,311.1 L594.5,326.1 L594.9,314.2 L595.3,320.6 L595.7,321.1 L596.0,334.1 L596.4,320.1 L596.8,320.8 L597.2,311.2 L597.6,303.7 L598.0,308.9 L598.3,313.6 L598.7,302.1 L599.1,311.1 L599.5,313.3 L599.9,309.6 L600.3,320.4 L600.6,299.6 L601.0,311.7 L601.4,305.2 L601.8,308.1 L602.2,308.3 L602.6,321.7 L602.9,323.2 L603.3,312.0 L603.7,306.9 L604.1,314.4 L604.5,314.3 L604.9,304.7 L605.2,314.0 L605.6,323.9 L606.0,315.3 L606.4,315.9 L606.8,318.2 L607.2,306.4 L607.5,304.1 L607.9,313.3 L608.3,315.2 L608.7,314.4 L609.1,310.9 L609.5,310.8 L609.8,322.7 L610.2,309.7 L610.6,315.8 L611.0,304.7 L611.4,303.1 L611.7,310.5 L612.1,324.2 L612.5,307.4 L612.9,310.0 L613.3,315.3 L613.7,316.8 L614.0,304.6 L614.4,317.1 L614.8,305.5 L615.2,303.1 L615.6,314.4 L616.0,315.1 L616.3,314.4 L616.7,314.6 L617.1,321.3 L617.5,308.7 L617.9,318.8 L618.3,297.3 L618.6,316.3 L619.0,316.8 L619.4,303.6 L619.8,297.0 L620.2,308.3 L620.6,314.0 L620.9,316.6 L621.3,313.2 L621.7,319.2 L622.1,309.3 L622.5,300.8 L622.9,316.2 L623.2,317.2 L623.6,315.8 L624.0,324.6 L624.4,316.7 L624.8,305.9 L625.2,302.5 L625.5,314.6 L625.9,295.9 L626.3,311.5 L626.7,323.7 L627.1,318.1 L627.5,302.1 L627.8,296.8 L628.2,318.6 L628.6,310.8 L629.0,316.9 L629.4,311.0 L629.8,312.2 L630.1,311.0 L630.5,305.0 L630.9,320.9 L631.3,303.1 L631.7,318.2 L632.1,301.2 L632.4,317.2 L632.8,316.9 L633.2,297.3 L633.6,308.1 L634.0,296.3 L634.4,307.7 L634.7,306.7 L635.1,310.9 L635.5,318.8 L635.9,302.5 L636.3,319.7 L636.7,301.6 L637.0,307.4 L637.4,288.3 L637.8,311.1 L638.2,310.2 L638.6,305.6 L639.0,311.6 L639.3,294.2 L639.7,317.4 L640.1,311.8 L640.5,304.2 L640.9,294.3 L641.3,304.0 L641.6,306.2 L642.0,312.5 L642.4,296.8 L642.8,297.4 L643.2,295.1 L643.6,309.8 L643.9,301.8 L644.3,313.7 L644.7,301.6 L645.1,305.8 L645.5,290.5 L645.9,304.5 L646.2,323.0 L646.6,298.4 L647.0,299.6 L647.4,309.3 L647.8,298.5 L648.2,300.8 L648.5,304.6 L648.9,300.3 L649.3,288.6 L649.7,296.2 L650.1,309.2 L650.5,297.8 L650.8,302.0 L651.2,289.9 L651.6,308.7 L652.0,309.3 L652.4,301.0 L652.8,298.7 L653.1,298.5 L653.5,294.3 L653.9,305.4 L654.3,306.0 L654.7,297.4 L655.1,291.6 L655.4,305.9 L655.8,305.3 L656.2,286.5 L656.6,290.2 L657.0,293.0 L657.4,279.1 L657.7,301.8 L658.1,295.5 L658.5,309.4 L658.9,301.0 L659.3,303.6 L659.7,301.9 L660.0,295.7 L660.4,311.8 L660.8,295.9 L661.2,283.1 L661.6,295.5 L662.0,307.2 L662.3,303.9 L662.7,298.5 L663.1,293.3 L663.5,296.8 L663.9,310.6 L664.3,295.2 L664.6,294.1 L665.0,300.1 L665.4,295.7 L665.8,301.4 L666.2,289.9 L666.6,291.9 L666.9,306.5 L667.3,294.8 L667.7,289.1 L668.1,295.6 L668.5,297.2 L668.9,300.2 L669.2,301.6 L669.6,292.9 L670.0,306.2 L670.4,299.1 L670.8,288.7 L671.2,292.9 L671.5,293.7 L671.9,297.4 L672.3,298.1 L672.7,309.0 L673.1,287.7 L673.5,286.6 L673.8,287.6 L674.2,284.5 L674.6,295.4 L675.0,301.3 L675.4,288.4 L675.8,284.4 L676.1,294.1 L676.5,294.4 L676.9,283.6 L677.3,287.2 L677.7,278.3 L678.1,290.3 L678.4,285.0 L678.8,289.6 L679.2,291.2 L679.6,291.5 L680.0,288.0 L680.4,289.5 L680.7,292.7 L681.1,280.5 L681.5,284.4 L681.9,289.5 L682.3,292.8 L682.7,296.1 L683.0,291.7 L683.4,289.8 L683.8,295.1 L684.2,301.4 L684.6,291.2 L685.0,291.6 L685.3,280.9 L685.7,302.8 L686.1,297.9 L686.5,277.8 L686.9,303.5 L687.3,293.7 L687.6,291.9 L688.0,279.6 L688.4,303.8 L688.8,287.0 L689.2,279.2 L689.6,300.5 L689.9,294.0 L690.3,290.2 L690.7,291.0 L691.1,292.8 L691.5,293.5 L691.9,287.0 L692.2,286.9 L692.6,289.3 L693.0,301.8 L693.4,285.4 L693.8,290.2 L694.2,295.4 L694.5,288.9 L694.9,288.2 L695.3,296.7 L695.7,301.7 L696.1,283.8 L696.5,291.1 L696.8,294.2 L697.2,289.7 L697.6,289.3 L698.0,288.1 L698.4,285.6 L698.8,293.4 L699.1,289.6 L699.5,288.6 L699.9,283.4 L700.3,279.5 L700.7,303.6 L701.1,295.2 L701.4,293.6 L701.8,273.8 L702.2,293.5 L702.6,306.5 L703.0,293.7 L703.4,274.4 L703.7,289.7 L704.1,292.9 L704.5,296.8 L704.9,293.8 L705.3,278.2 L705.7,292.5 L706.0,293.6 L706.4,290.6 L706.8,293.7 L707.2,296.9 L707.6,282.2 L708.0,289.9 L708.3,295.8 L708.7,296.0 L709.1,282.7 L709.5,288.9 L709.9,301.1 L710.3,294.5 L710.6,304.0 L711.0,294.8 L711.4,290.5 L711.8,293.2 L712.2,285.4 L712.6,285.2 L712.9,297.3 L713.3,290.9 L713.7,289.3 L714.1,295.2 L714.5,278.1 L714.9,302.6 L715.2,280.0 L715.6,296.0 L716.0,292.6 L716.4,298.5 L716.8,296.6 L717.2,289.5 L717.5,282.4 L717.9,295.4 L718.3,283.4 L718.7,300.3 L719.1,287.4 L719.5,283.4 L719.8,294.5 L720.2,287.2 L720.6,287.2 L721.0,280.7 L721.4,279.1 L721.8,299.1 L722.1,300.8 L722.5,274.2 L722.9,284.2 L723.3,297.2 L723.7,293.3 L724.1,290.0 L724.4,290.5 L724.8,293.5 L725.2,297.7 L725.6,295.7 L726.0,290.1 L726.4,293.2 L726.7,285.5 L727.1,269.5 L727.5,290.0 L727.9,293.3 L728.3,283.2 L728.7,284.3 L729.0,284.1 L729.4,295.0 L729.8,279.1 L730.2,290.7 L730.6,276.0 L731.0,288.0 L731.3,278.3 L731.7,290.7 L732.1,287.6 L732.5,284.9 L732.9,282.9 L733.3,299.9 L733.6,280.5 L734.0,283.5 L734.4,299.1 L734.8,292.1 L735.2,283.8 L735.6,279.4 L735.9,274.3 L736.3,300.2 L736.7,282.0 L737.1,293.6 L737.5,279.1 L737.9,283.5 L738.2,297.4 L738.6,288.6 L739.0,292.5 L739.4,270.8 L739.8,280.8 L740.2,296.9 L740.5,294.7 L740.9,284.5 L741.3,287.0 L741.7,284.8 L742.1,291.6 L742.5,280.4 L742.8,272.1 L743.2,299.4 L743.6,292.6 L744.0,288.1 L744.4,281.9 L744.8,288.4 L745.1,277.5 L745.5,281.3 L745.9,292.7 L746.3,284.2 L746.7,296.7 L747.1,287.2 L747.4,276.9 L747.8,282.8 L748.2,300.3 L748.6,280.3 L749.0,282.6 L749.4,274.6 L749.7,292.9 L750.1,274.6 L750.5,281.1 L750.9,284.6 L751.3,294.4 L751.7,289.4 L752.0,285.0 L752.4,280.1 L752.8,287.8 L753.2,286.8 L753.6,279.3 L754.0,288.2 L754.3,285.1 L754.7,299.1 L755.1,292.3 L755.5,271.2 L755.9,288.6 L756.3,274.8 L756.6,293.1 L757.0,285.9 L757.4,287.8 L757.8,295.9 L758.2,287.3 L758.6,284.3 L758.9,288.9 L759.3,280.4 L759.7,281.2 L760.1,280.9 L760.5,275.7 L760.9,287.4 L761.2,278.7 L761.6,285.8 L762.0,279.7 L762.4,279.9 L762.8,282.0 L763.2,279.9 L763.5,285.9 L763.9,278.9 L764.3,290.2 L764.7,291.3 L765.1,285.4 L765.5,272.8 L765.8,290.4 L766.2,276.2 L766.6,271.1 L767.0,276.8 L767.4,281.7 L767.8,287.7 L768.1,280.1 L768.5,280.5 L768.9,283.3 L769.3,285.3 L769.7,284.5 L770.1,289.7 L770.4,279.9 L770.8,279.6 L771.2,301.3 L771.6,299.3 L772.0,291.0 L772.4,290.6 L772.7,277.7 L773.1,276.6 L773.5,276.2 L773.9,273.5 L774.3,273.1 L774.7,292.8 L775.0,286.7 L775.4,263.7 L775.8,276.5 L776.2,279.1 L776.6,282.9 L777.0,278.6 L777.3,282.2 L777.7,268.9 L778.1,280.8 L778.5,296.8 L778.9,280.6 L779.3,276.5 L779.6,269.7 L780.0,280.1 L780.4,273.8 L780.8,282.4 L781.2,276.0 L781.6,280.6 L781.9,274.1 L782.3,284.3 L782.7,283.2 L783.1,280.4 L783.5,288.5 L783.9,289.1 L784.2,276.5 L784.6,275.9 L785.0,276.4 L785.4,268.9 L785.8,279.9 L786.2,278.6 L786.5,272.1 L786.9,287.4 L787.3,290.4 L787.7,274.1 L788.1,271.4 L788.5,268.7 L788.8,282.2 L789.2,275.0 L789.6,275.0 L790.0,293.2 L790.4,277.2 L790.8,274.0 L791.1,277.5 L791.5,280.2 L791.9,282.7 L792.3,271.1 L792.7,276.0 L793.1,272.3 L793.4,290.5 L793.8,277.6 L794.2,286.8 L794.6,286.2 L795.0,283.3 L795.4,281.3 L795.7,285.7 L796.1,278.8 L796.5,290.0 L796.9,278.7 L797.3,269.5 L797.7,276.9 L798.0,273.8 L798.4,269.6 L798.8,278.3 L799.2,270.7 L799.6,287.6 L800.0,283.0 L800.3,282.8 L800.7,272.2 L801.1,286.7 L801.5,260.4 L801.9,263.2 L802.3,287.5 L802.6,276.7 L803.0,285.2 L803.4,270.4 L803.8,281.5 L804.2,276.2 L804.6,259.1 L804.9,268.1 L805.3,274.7 L805.7,279.5 L806.1,263.7 L806.5,273.3 L806.9,282.7 L807.2,288.9 L807.6,276.4 L808.0,268.5 L808.4,276.5 L808.8,276.8 L809.2,276.0 L809.5,270.1 L809.9,277.7 L810.3,272.2 L810.7,281.3 L811.1,274.5 L811.5,275.4 L811.8,285.9 L812.2,282.2 L812.6,279.2 L813.0,278.6 L813.4,295.3 L813.8,276.7 L814.1,277.3 L814.5,282.7 L814.9,281.7 L815.3,268.8 L815.7,262.2 L816.1,264.9 L816.4,284.9 L816.8,267.0 L817.2,270.0 L817.6,270.5 L818.0,271.2 L818.4,282.6 L818.7,267.8 L819.1,272.2 L819.5,272.5 L819.9,277.7 L820.3,261.1 L820.7,273.7 L821.0,268.7 L821.4,288.9 L821.8,278.4 L822.2,259.6 L822.6,275.3 L823.0,273.6 L823.3,274.6 L823.7,277.8 L824.1,279.7 L824.5,260.4 L824.9,279.3 L825.3,274.5 L825.6,274.1 L826.0,262.9 L826.4,269.1 L826.8,274.0 L827.2,265.3 L827.6,265.0 L827.9,290.3 L828.3,260.3 L828.7,269.1 L829.1,267.0 L829.5,277.9 L829.9,270.1 L830.2,265.3 L830.6,271.3 L831.0,271.8 L831.4,276.5 L831.8,260.4 L832.2,255.4 L832.5,264.7 L832.9,269.9 L833.3,286.1 L833.7,276.1 L834.1,268.5 L834.5,271.2 L834.8,276.3 L835.2,272.9 L835.6,261.5 L836.0,263.1 L836.4,271.8 L836.8,273.0 L837.1,258.6 L837.5,266.0 L837.9,270.5 L838.3,256.5 L838.7,260.9 L839.1,262.9 L839.4,263.6 L839.8,261.0 L840.2,270.6 L840.6,253.9 L841.0,258.3 L841.4,277.4 L841.7,265.9 L842.1,259.1 L842.5,270.2 L842.9,264.3 L843.3,277.2 L843.7,272.2 L844.0,268.1 L844.4,260.0 L844.8,262.3 L845.2,257.7 L845.6,262.4 L846.0,265.9 L846.3,263.5 L846.7,275.6 L847.1,270.1 L847.5,275.0 L847.9,259.7 L848.3,256.1 L848.6,270.5 L849.0,271.3 L849.4,258.9 L849.8,278.3 L850.2,265.3 L850.6,273.8 L850.9,262.0 L851.3,269.5 L851.7,258.9 L852.1,280.1 L852.5,273.1 L852.9,248.5 L853.2,263.2 L853.6,273.9 L854.0,265.3 L854.4,269.6 L854.8,285.2 L855.2,262.9 L855.5,278.3 L855.9,278.6 L856.3,269.5 L856.7,274.2 L857.1,283.4 L857.5,270.1 L857.8,268.5 L858.2,264.1 L858.6,264.7 L859.0,284.7 L859.4,269.6 L859.8,266.1 L860.1,262.5 L860.5,271.6 L860.9,275.3 L861.3,272.8 L861.7,263.3 L862.1,268.2 L862.4,264.2 L862.8,270.9 L863.2,253.0 L863.6,269.1 L864.0,274.8 L864.4,270.7 L864.7,270.2 L865.1,273.4 L865.5,267.0 L865.9,265.5 L866.3,268.8 L866.7,267.0 L867.0,280.6 L867.4,263.4 L867.8,265.7 L868.2,274.2 L868.6,277.8 L869.0,261.7 L869.3,273.6 L869.7,268.3 L870.1,279.1 L870.5,269.1 L870.9,264.9 L871.3,276.7 L871.6,264.0 L872.0,268.4 L872.4,269.1 L872.8,264.1 L873.2,271.1 L873.6,271.3 L873.9,285.1 L874.3,263.1 L874.7,268.2 L875.1,279.1 L875.5,277.7 L875.9,262.9 L876.2,265.8 L876.6,265.3 L877.0,268.2 L877.4,269.1 L877.8,266.2 L878.2,276.6 L878.5,291.0 L878.9,273.8 L879.3,266.0 L879.7,283.5 L880.1,270.3 L880.5,272.5 L880.8,259.9 L881.2,268.6 L881.6,264.7 L882.0,287.0 L882.4,272.9 L882.8,282.3 L883.1,285.7 L883.5,276.4 L883.9,270.0 L884.3,271.1 L884.7,253.0 L885.1,262.7 L885.4,274.8 L885.8,278.7 L886.2,277.1 L886.6,280.5 L887.0,285.7 L887.4,256.8 L887.7,269.6 L888.1,273.9 L888.5,253.1 L888.9,282.3 L889.3,265.7 L889.7,270.3 L890.0,258.3 L890.4,275.4 L890.8,269.3 L891.2,264.3 L891.6,278.5 L892.0,284.4 L892.3,259.8 L892.7,276.9 L893.1,274.2 L893.5,287.4 L893.9,277.1 L894.3,277.5 L894.6,260.9 L895.0,271.0 L895.4,262.9 L895.8,267.9 L896.2,277.6 L896.6,271.9 L896.9,274.9 L897.3,279.2 L897.7,263.5 L898.1,268.8"/>
<path d="M130.3,645.3 L130.7,650.5 L131.1,635.0 L131.4,647.9 L131.8,647.2 L132.2,639.3 L132.6,652.8 L133.0,650.0 L133.4,645.9 L133.7,649.1 L134.1,653.1 L134.5,649.1 L134.9,647.3 L135.3,645.8 L135.7,643.2 L136.0,636.1 L136.4,627.9 L136.8,618.4 L137.2,605.2 L137.6,592.0 L138.0,576.8 L138.3,560.1 L138.7,544.6 L139.1,528.2 L139.5,510.9 L139.9,485.5 L140.3,451.9 L140.6,419.4 L141.0,400.9 L141.4,391.8 L141.8,385.1 L142.2,380.8 L142.6,376.4 L142.9,372.0 L143.3,366.2 L143.7,360.6 L144.1,358.1 L144.5,350.2 L144.9,349.5 L145.2,361.7 L145.6,367.0 L146.0,349.5 L146.4,355.8 L146.8,344.5 L147.2,356.0 L147.5,342.6 L147.9,347.5 L148.3,334.8 L148.7,340.4 L149.1,343.7 L149.5,348.9 L149.8,345.0 L150.2,337.7 L150.6,343.2 L151.0,334.8 L151.4,343.7 L151.8,349.6 L152.1,328.9 L152.5,334.7 L152.9,331.2 L153.3,338.6 L153.7,316.0 L154.1,332.4 L154.4,332.7 L154.8,325.1 L155.2,327.1 L155.6,334.0 L156.0,321.7 L156.4,322.7 L156.7,311.9 L157.1,318.3 L157.5,323.2 L157.9,306.2 L158.3,324.1 L158.7,315.8 L159.0,327.7 L159.4,318.0 L159.8,330.6 L160.2,322.1 L160.6,318.9 L161.0,316.5 L161.3,315.3 L161.7,308.4 L162.1,313.6 L162.5,314.2 L162.9,320.4 L163.3,301.9 L163.6,302.1 L164.0,310.2 L164.4,299.1 L164.8,309.7 L165.2,304.4 L165.6,313.2 L165.9,302.9 L166.3,304.9 L166.7,316.2 L167.1,301.5 L167.5,312.7 L167.9,294.8 L168.2,299.2 L168.6,313.6 L169.0,305.1 L169.4,297.6 L169.8,310.6 L170.2,295.4 L170.5,301.1 L170.9,300.9 L171.3,297.1 L171.7,300.2 L172.1,295.8 L172.5,282.7 L172.8,298.5 L173.2,295.9 L173.6,287.3 L174.0,291.9 L174.4,288.7 L174.8,291.0 L175.1,285.5 L175.5,298.0 L175.9,311.9 L176.3,294.3 L176.7,292.0 L177.1,282.3 L177.4,292.9 L177.8,288.7 L178.2,283.2 L178.6,284.6 L179.0,292.4 L179.4,270.0 L179.7,275.8 L180.1,278.2 L180.5,297.3 L180.9,275.0 L181.3,284.5 L181.7,272.9 L182.0,289.4 L182.4,267.8 L182.8,280.8 L183.2,285.4 L183.6,265.7 L184.0,286.6 L184.3,271.1 L184.7,278.1 L185.1,282.5 L185.5,281.4 L185.9,282.4 L186.3,275.6 L186.6,280.6 L187.0,285.7 L187.4,273.9 L187.8,274.4 L188.2,264.6 L188.6,281.3 L188.9,287.8 L189.3,286.1 L189.7,282.3 L190.1,280.0 L190.5,293.6 L190.9,282.3 L191.2,274.0 L191.6,287.3 L192.0,271.6 L192.4,267.3 L192.8,286.8 L193.2,277.3 L193.5,279.5 L193.9,259.2 L194.3,280.6 L194.7,272.4 L195.1,267.1 L195.5,271.8 L195.8,281.6 L196.2,266.1 L196.6,280.7 L197.0,263.2 L197.4,263.7 L197.8,269.1 L198.1,267.3 L198.5,280.6 L198.9,265.2 L199.3,277.1 L199.7,260.0 L200.1,262.0 L200.4,255.7 L200.8,259.1 L201.2,270.0 L201.6,266.3 L202.0,251.4 L202.4,261.5 L202.7,247.9 L203.1,269.9 L203.5,263.3 L203.9,264.6 L204.3,267.4 L204.7,253.0 L205.0,247.5 L205.4,263.8 L205.8,259.1 L206.2,264.5 L206.6,256.0 L207.0,262.3 L207.3,257.5 L207.7,263.7 L208.1,261.5 L208.5,251.7 L208.9,253.6 L209.3,238.4 L209.6,253.2 L210.0,243.8 L210.4,260.9 L210.8,264.6 L211.2,255.6 L211.6,239.8 L211.9,253.8 L212.3,248.7 L212.7,243.0 L213.1,247.0 L213.5,253.4 L213.9,247.9 L214.2,256.2 L214.6,248.4 L215.0,255.3 L215.4,253.0 L215.8,254.5 L216.2,240.6 L216.5,249.3 L216.9,251.4 L217.3,240.8 L217.7,235.7 L218.1,251.4 L218.5,245.9 L218.8,241.9 L219.2,251.9 L219.6,254.1 L220.0,251.0 L220.4,233.8 L220.8,245.6 L221.1,235.3 L221.5,241.2 L221.9,244.7 L222.3,238.2 L222.7,237.9 L223.1,243.9 L223.4,245.1 L223.8,240.1 L224.2,246.5 L224.6,240.1 L225.0,237.8 L225.4,242.2 L225.7,240.9 L226.1,248.3 L226.5,249.8 L226.9,224.4 L227.3,242.3 L227.7,242.0 L228.0,238.7 L228.4,237.2 L228.8,233.8 L229.2,230.0 L229.6,239.7 L230.0,237.8 L230.3,246.4 L230.7,237.1 L231.1,231.5 L231.5,220.9 L231.9,230.7 L232.3,242.8 L232.6,234.2 L233.0,236.7 L233.4,238.0 L233.8,226.3 L234.2,240.3 L234.6,229.0 L234.9,231.2 L235.3,236.2 L235.7,229.4 L236.1,218.0 L236.5,236.9 L236.9,240.2 L237.2,228.5 L237.6,222.9 L238.0,223.3 L238.4,241.6 L238.8,240.1 L239.2,237.6 L239.5,230.8 L239.9,228.0 L240.3,229.5 L240.7,231.4 L241.1,232.3 L241.5,233.0 L241.8,229.9 L242.2,233.5 L242.6,239.6 L243.0,233.7 L243.4,224.4 L243.8,231.7 L244.1,227.7 L244.5,216.4 L244.9,233.9 L245.3,223.3 L245.7,232.9 L246.1,224.6 L246.4,217.4 L246.8,220.7 L247.2,227.4 L247.6,222.1 L248.0,221.4 L248.4,234.3 L248.7,230.3 L249.1,218.2 L249.5,207.6 L249.9,223.9 L250.3,222.8 L250.7,214.2 L251.0,216.3 L251.4,211.3 L251.8,223.3 L252.2,218.5 L252.6,214.7 L253.0,216.3 L253.3,224.1 L253.7,229.9 L254.1,213.1 L254.5,220.4 L254.9,212.3 L255.3,218.5 L255.6,214.7 L256.0,220.4 L256.4,226.8 L256.8,215.9 L257.2,217.6 L257.6,214.9 L257.9,222.7 L258.3,223.6 L258.7,211.6 L259.1,222.0 L259.5,217.6 L259.9,210.5 L260.2,217.8 L260.6,207.9 L261.0,219.6 L261.4,209.6 L261.8,206.8 L262.2,204.8 L262.5,211.5 L262.9,214.2 L263.3,209.5 L263.7,211.4 L264.1,216.1 L264.5,227.4 L264.8,216.3 L265.2,206.8 L265.6,208.4 L266.0,223.9 L266.4,205.1 L266.8,215.3 L267.1,200.7 L267.5,218.0 L267.9,220.8 L268.3,204.2 L268.7,207.6 L269.1,210.4 L269.4,208.2 L269.8,209.5 L270.2,209.0 L270.6,204.7 L271.0,210.0 L271.4,211.0 L271.7,210.6 L272.1,200.6 L272.5,205.9 L272.9,214.9 L273.3,209.4 L273.7,214.2 L274.0,206.9 L274.4,205.7 L274.8,216.0 L275.2,214.5 L275.6,209.5 L276.0,208.0 L276.3,210.0 L276.7,208.0 L277.1,208.8 L277.5,211.0 L277.9,205.9 L278.3,213.9 L278.6,206.5 L279.0,198.5 L279.4,212.7 L279.8,202.5 L280.2,197.8 L280.6,197.8 L280.9,208.4 L281.3,199.1 L281.7,203.2 L282.1,199.9 L282.5,196.8 L282.9,199.3 L283.2,213.1 L283.6,203.2 L284.0,198.1 L284.4,209.6 L284.8,206.7 L285.2,212.2 L285.5,207.2 L285.9,196.6 L286.3,201.8 L286.7,203.0 L287.1,213.5 L287.5,199.6 L287.8,209.2 L288.2,196.2 L288.6,204.9 L289.0,195.4 L289.4,205.4 L289.8,202.8 L290.1,202.4 L290.5,202.5 L290.9,205.5 L291.3,197.3 L291.7,203.2 L292.1,206.1 L292.4,205.1 L292.8,199.7 L293.2,206.2 L293.6,206.1 L294.0,201.1 L294.4,205.3 L294.7,193.5 L295.1,195.0 L295.5,199.2 L295.9,204.5 L296.3,198.5 L296.7,197.7 L297.0,208.1 L297.4,203.2 L297.8,203.8 L298.2,192.1 L298.6,200.8 L299.0,195.3 L299.3,185.8 L299.7,196.0 L300.1,192.1 L300.5,195.3 L300.9,198.6 L301.3,192.1 L301.6,203.7 L302.0,202.3 L302.4,187.6 L302.8,200.0 L303.2,205.4 L303.6,197.0 L303.9,196.3 L304.3,197.7 L304.7,195.7 L305.1,188.3 L305.5,206.7 L305.9,190.6 L306.2,200.6 L306.6,191.9 L307.0,195.9 L307.4,186.0 L307.8,184.9 L308.2,186.4 L308.5,189.4 L308.9,196.0 L309.3,180.9 L309.7,197.6 L310.1,196.0 L310.5,197.7 L310.8,195.4 L311.2,189.4 L311.6,199.5 L312.0,191.5 L312.4,197.2 L312.8,189.2 L313.1,197.4 L313.5,191.3 L313.9,194.9 L314.3,187.9 L314.7,177.3 L315.1,184.3 L315.4,189.5 L315.8,179.4 L316.2,192.5 L316.6,194.4 L317.0,195.1 L317.4,189.9 L317.7,187.0 L318.1,197.2 L318.5,195.5 L318.9,182.5 L319.3,190.3 L319.7,192.4 L320.0,189.1 L320.4,192.2 L320.8,191.7 L321.2,191.5 L321.6,191.1 L322.0,195.5 L322.3,184.1 L322.7,191.5 L323.1,195.0 L323.5,188.3 L323.9,187.5 L324.3,195.5 L324.6,192.4 L325.0,188.5 L325.4,180.4 L325.8,183.0 L326.2,189.6 L326.6,183.2 L326.9,180.5 L327.3,192.6 L327.7,184.9 L328.1,184.5 L328.5,182.8 L328.9,184.0 L329.2,180.7 L329.6,192.3 L330.0,186.0 L330.4,188.2 L330.8,177.2 L331.2,182.1 L331.5,176.4 L331.9,179.4 L332.3,182.0 L332.7,177.5 L333.1,188.3 L333.5,187.2 L333.8,179.7 L334.2,185.7 L334.6,188.4 L335.0,177.8 L335.4,187.8 L335.8,186.2 L336.1,185.4 L336.5,188.8 L336.9,171.9 L337.3,185.3 L337.7,186.9 L338.1,191.9 L338.4,181.7 L338.8,179.3 L339.2,180.2 L339.6,181.6 L340.0,186.7 L340.4,182.0 L340.7,181.5 L341.1,177.7 L341.5,188.1 L341.9,177.4 L342.3,174.6 L342.7,180.4 L343.0,182.4 L343.4,172.2 L343.8,170.2 L344.2,183.0 L344.6,174.5 L345.0,168.5 L345.3,177.1 L345.7,176.8 L346.1,179.8 L346.5,177.2 L346.9,170.4 L347.3,176.9 L347.6,181.0 L348.0,185.7 L348.4,178.6 L348.8,173.5 L349.2,170.1 L349.6,180.7 L349.9,174.5 L350.3,179.1 L350.7,177.8 L351.1,174.7 L351.5,179.0 L351.9,180.4 L352.2,183.9 L352.6,183.3 L353.0,171.8 L353.4,175.7 L353.8,181.3 L354.2,173.3 L354.5,186.4 L354.9,170.9 L355.3,178.1 L355.7,172.9 L356.1,182.1 L356.5,176.3 L356.8,177.5 L357.2,181.1 L357.6,172.1 L358.0,171.1 L358.4,173.7 L358.8,171.1 L359.1,178.5 L359.5,172.2 L359.9,166.9 L360.3,179.0 L360.7,184.6 L361.1,158.8 L361.4,169.2 L361.8,175.4 L362.2,165.8 L362.6,165.9 L363.0,166.0 L363.4,174.5 L363.7,177.5 L364.1,176.7 L364.5,162.5 L364.9,174.1 L365.3,171.9 L365.7,172.3 L366.0,165.0 L366.4,171.0 L366.8,167.3 L367.2,172.0 L367.6,164.9 L368.0,163.8 L368.3,174.7 L368.7,169.0 L369.1,167.1 L369.5,175.0 L369.9,174.8 L370.3,173.5 L370.6,167.6 L371.0,176.3 L371.4,170.8 L371.8,170.9 L372.2,169.0 L372.6,165.6 L372.9,167.2 L373.3,160.5 L373.7,165.6 L374.1,169.5 L374.5,176.6 L374.9,172.4 L375.2,163.4 L375.6,167.3 L376.0,169.7 L376.4,170.2 L376.8,169.4 L377.2,183.1 L377.5,158.8 L377.9,163.5 L378.3,168.0 L378.7,170.5 L379.1,169.9 L379.5,174.5 L379.8,168.6 L380.2,170.0 L380.6,165.1 L381.0,160.3 L381.4,161.8 L381.8,160.2 L382.1,173.2 L382.5,166.2 L382.9,176.2 L383.3,169.7 L383.7,158.8 L384.1,171.3 L384.4,164.6 L384.8,168.7 L385.2,168.7 L385.6,176.1 L386.0,167.2 L386.4,171.1 L386.7,156.0 L387.1,165.6 L387.5,172.3 L387.9,172.2 L388.3,170.6 L388.7,151.3 L389.0,165.2 L389.4,176.0 L389.8,166.3 L390.2,174.2 L390.6,164.6 L391.0,162.2 L391.3,171.6 L391.7,162.2 L392.1,169.0 L392.5,173.2 L392.9,171.0 L393.3,156.3 L393.6,172.4 L394.0,170.6 L394.4,173.8 L394.8,165.0 L395.2,155.7 L395.6,161.3 L395.9,164.6 L396.3,165.7 L396.7,155.0 L397.1,162.2 L397.5,169.1 L397.9,160.3 L398.2,158.0 L398.6,166.1 L399.0,158.5 L399.4,171.6 L399.8,161.7 L400.2,162.7 L400.5,165.7 L400.9,156.7 L401.3,155.8 L401.7,160.8 L402.1,159.1 L402.5,153.8 L402.8,157.9 L403.2,159.4 L403.6,164.4 L404.0,159.3 L404.4,153.8 L404.8,154.3 L405.1,167.3 L405.5,160.0 L405.9,163.3 L406.3,150.1 L406.7,173.6 L407.1,156.1 L407.4,163.2 L407.8,159.4 L408.2,157.2 L408.6,154.6 L409.0,164.3 L409.4,158.2 L409.7,162.2 L410.1,155.9 L410.5,149.9 L410.9,157.0 L411.3,159.8 L411.7,154.2 L412.0,153.2 L412.4,154.7 L412.8,146.7 L413.2,160.3 L413.6,157.8 L414.0,158.7 L414.3,152.2 L414.7,160.3 L415.1,157.7 L415.5,161.4 L415.9,166.9 L416.3,147.2 L416.6,164.9 L417.0,153.0 L417.4,152.3 L417.8,162.4 L418.2,164.9 L418.6,156.8 L418.9,158.2 L419.3,167.2 L419.7,159.4 L420.1,151.0 L420.5,155.4 L420.9,155.9 L421.2,159.4 L421.6,143.6 L422.0,157.3 L422.4,157.4 L422.8,161.8 L423.2,158.3 L423.5,166.4 L423.9,158.5 L424.3,155.0 L424.7,151.2 L425.1,160.0 L425.5,161.4 L425.8,155.9 L426.2,156.3 L426.6,150.2 L427.0,166.0 L427.4,162.2 L427.8,159.3 L428.1,170.1 L428.5,159.9 L428.9,149.0 L429.3,152.0 L429.7,161.2 L430.1,152.5 L430.4,146.4 L430.8,157.1 L431.2,161.1 L431.6,151.4 L432.0,147.3 L432.4,161.2 L432.7,157.5 L433.1,157.9 L433.5,154.8 L433.9,159.7 L434.3,150.0 L434.7,149.3 L435.0,154.3 L435.4,159.0 L435.8,151.8 L436.2,157.1 L436.6,155.3 L437.0,146.7 L437.3,160.0 L437.7,161.1 L438.1,154.8 L438.5,167.0 L438.9,145.6 L439.3,154.9 L439.6,146.0 L440.0,157.3 L440.4,148.6 L440.8,148.4 L441.2,150.3 L441.6,158.1 L441.9,157.7 L442.3,148.8 L442.7,154.1 L443.1,146.5 L443.5,165.2 L443.9,154.2 L444.2,159.8 L444.6,149.5 L445.0,152.8 L445.4,151.8 L445.8,155.6 L446.2,144.5 L446.5,148.5 L446.9,157.6 L447.3,155.3 L447.7,155.4 L448.1,140.9 L448.5,159.7 L448.8,156.0 L449.2,146.7 L449.6,158.1 L450.0,144.9 L450.4,158.2 L450.8,153.2 L451.1,157.1 L451.5,153.0 L451.9,156.9 L452.3,153.7 L452.7,153.9 L453.1,157.2 L453.4,144.9 L453.8,149.2 L454.2,151.5 L454.6,155.3 L455.0,155.2 L455.4,149.7 L455.7,151.3 L456.1,149.1 L456.5,157.0 L456.9,158.2 L457.3,144.9 L457.7,150.9 L458.0,150.3 L458.4,161.4 L458.8,145.5 L459.2,150.7 L459.6,148.5 L460.0,156.8 L460.3,144.0 L460.7,145.0 L461.1,149.6 L461.5,157.5 L461.9,147.1 L462.3,149.6 L462.6,142.7 L463.0,155.5 L463.4,158.5 L463.8,143.8 L464.2,151.7 L464.6,151.4 L464.9,149.5 L465.3,161.3 L465.7,156.8 L466.1,155.0 L466.5,150.9 L466.9,141.3 L467.2,159.2 L467.6,153.3 L468.0,150.9 L468.4,149.0 L468.8,136.1 L469.2,143.8 L469.5,139.4 L469.9,147.7 L470.3,151.6 L470.7,145.6 L471.1,156.4 L471.5,137.5 L471.8,136.5 L472.2,141.2 L472.6,146.5 L473.0,147.5 L473.4,149.5 L473.8,153.9 L474.1,149.1 L474.5,149.0 L474.9,142.9 L475.3,143.9 L475.7,147.5 L476.1,152.8 L476.4,155.3 L476.8,145.4 L477.2,145.9 L477.6,152.4 L478.0,147.7 L478.4,140.4 L478.7,142.6 L479.1,142.7 L479.5,146.6 L479.9,137.6 L480.3,155.1 L480.7,143.7 L481.0,144.4 L481.4,142.6 L481.8,148.7 L482.2,139.2 L482.6,133.8 L483.0,140.3 L483.3,148.2 L483.7,148.9 L484.1,147.3 L484.5,141.7 L484.9,146.0 L485.3,146.3 L485.6,148.5 L486.0,149.3 L486.4,133.6 L486.8,143.3 L487.2,144.0 L487.6,154.3 L487.9,143.2 L488.3,150.2 L488.7,150.6 L489.1,136.3 L489.5,146.2 L489.9,138.2 L490.2,128.4 L490.6,144.9 L491.0,143.2 L491.4,135.5 L491.8,149.6 L492.2,142.8 L492.5,133.4 L492.9,143.3 L493.3,131.3 L493.7,140.7 L494.1,142.7 L494.5,141.5 L494.8,143.1 L495.2,152.0 L495.6,135.3 L496.0,135.0 L496.4,137.2 L496.8,138.8 L497.1,140.7 L497.5,147.0 L497.9,142.7 L498.3,143.6 L498.7,141.0 L499.1,144.5 L499.4,151.4 L499.8,132.4 L500.2,136.7 L500.6,138.0 L501.0,145.4 L501.4,146.7 L501.7,137.3 L502.1,137.9 L502.5,127.4 L502.9,145.4 L503.3,138.7 L503.7,139.3 L504.0,132.1 L504.4,142.6 L504.8,141.1 L505.2,149.3 L505.6,140.8 L506.0,139.6 L506.3,132.5 L506.7,137.5 L507.1,140.9 L507.5,142.4 L507.9,140.8 L508.3,131.8 L508.6,152.2 L509.0,133.9 L509.4,139.3 L509.8,134.6 L510.2,136.5 L510.6,144.8 L510.9,138.0 L511.3,145.4 L511.7,137.7 L512.1,144.2 L512.5,142.5 L512.9,148.1 L513.2,136.5 L513.6,146.7 L514.0,146.5 L514.4,135.4 L514.8,139.3 L515.2,146.0 L515.5,128.8 L515.9,127.2 L516.3,141.5 L516.7,132.6 L517.1,139.2 L517.5,137.0 L517.8,128.8 L518.2,132.5 L518.6,135.6 L519.0,130.0 L519.4,136.3 L519.8,133.3 L520.1,139.9 L520.5,140.3 L520.9,135.8 L521.3,144.7 L521.7,139.1 L522.1,131.2 L522.4,142.2 L522.8,139.5 L523.2,133.2 L523.6,144.1 L524.0,149.1 L524.4,141.7 L524.7,139.2 L525.1,143.2 L525.5,138.7 L525.9,137.7 L526.3,137.1 L526.7,143.3 L527.0,143.5 L527.4,134.5 L527.8,128.8 L528.2,130.4 L528.6,129.8 L529.0,136.7 L529.3,137.2 L529.7,136.8 L530.1,134.1 L530.5,140.8 L530.9,131.0 L531.3,132.2 L531.6,138.7 L532.0,121.9 L532.4,134.9 L532.8,132.6 L533.2,135.6 L533.6,131.7 L533.9,145.4 L534.3,133.4 L534.7,132.5 L535.1,141.9 L535.5,130.3 L535.9,128.7 L536.2,125.1 L536.6,138.7 L537.0,142.5 L537.4,137.1 L537.8,130.5 L538.2,131.4 L538.5,136.6 L538.9,143.9 L539.3,129.2 L539.7,134.4 L540.1,138.4 L540.5,140.7 L540.8,129.0 L541.2,135.3 L541.6,134.6 L542.0,130.0 L542.4,140.3 L542.8,137.5 L543.1,138.8 L543.5,135.7 L543.9,124.7 L544.3,142.2 L544.7,136.4 L545.1,128.8 L545.4,140.6 L545.8,138.0 L546.2,133.3 L546.6,137.8 L547.0,133.7 L547.4,127.9 L547.7,136.0 L548.1,134.4 L548.5,130.6 L548.9,129.9 L549.3,135.9 L549.7,137.3 L550.0,136.9 L550.4,139.9 L550.8,137.2 L551.2,134.3 L551.6,124.9 L552.0,124.7 L552.3,129.2 L552.7,132.5 L553.1,132.0 L553.5,131.7 L553.9,126.2 L554.3,133.1 L554.6,125.9 L555.0,141.2 L555.4,129.2 L555.8,136.5 L556.2,136.3 L556.6,134.2 L556.9,117.5 L557.3,132.6 L557.7,122.2 L558.1,136.2 L558.5,130.7 L558.9,138.2 L559.2,133.1 L559.6,128.4 L560.0,140.6 L560.4,131.0 L560.8,132.8 L561.2,142.0 L561.5,135.4 L561.9,138.4 L562.3,129.3 L562.7,135.4 L563.1,128.2 L563.5,135.2 L563.8,123.2 L564.2,137.0 L564.6,132.9 L565.0,132.3 L565.4,131.7 L565.8,137.8 L566.1,134.9 L566.5,129.0 L566.9,137.2 L567.3,127.9 L567.7,130.6 L568.1,138.3 L568.4,136.8 L568.8,119.9 L569.2,134.2 L569.6,137.5 L570.0,132.3 L570.4,134.9 L570.7,119.4 L571.1,134.1 L571.5,136.6 L571.9,138.1 L572.3,128.9 L572.7,126.2 L573.0,122.6 L573.4,132.4 L573.8,131.2 L574.2,138.1 L574.6,124.6 L575.0,127.5 L575.3,141.0 L575.7,130.9 L576.1,124.0 L576.5,122.8 L576.9,129.0 L577.3,129.6 L577.6,116.7 L578.0,132.2 L578.4,139.0 L578.8,136.3 L579.2,124.6 L579.6,127.7 L579.9,121.8 L580.3,129.1 L580.7,127.6 L581.1,131.3 L581.5,131.6 L581.9,119.7 L582.2,125.4 L582.6,128.0 L583.0,129.9 L583.4,126.3 L583.8,124.4 L584.2,123.9 L584.5,133.7 L584.9,130.3 L585.3,126.6 L585.7,128.6 L586.1,120.6 L586.5,131.3 L586.8,127.9 L587.2,119.9 L587.6,129.0 L588.0,124.4 L588.4,120.3 L588.8,119.4 L589.1,134.1 L589.5,131.1 L589.9,128.2 L590.3,126.5 L590.7,130.8 L591.1,128.0 L591.4,122.0 L591.8,131.5 L592.2,122.2 L592.6,123.9 L593.0,119.0 L593.4,121.1 L593.7,123.3 L594.1,121.1 L594.5,122.1 L594.9,112.2 L595.3,127.4 L595.7,126.1 L596.0,128.5 L596.4,118.6 L596.8,127.2 L597.2,120.0 L597.6,135.4 L598.0,124.6 L598.3,126.0 L598.7,126.8 L599.1,130.4 L599.5,120.9 L599.9,113.1 L600.3,126.7 L600.6,123.0 L601.0,131.4 L601.4,134.9 L601.8,123.2 L602.2,134.4 L602.6,124.0 L602.9,129.7 L603.3,112.3 L603.7,128.0 L604.1,121.3 L604.5,131.2 L604.9,115.7 L605.2,127.7 L605.6,125.6 L606.0,120.0 L606.4,120.4 L606.8,120.4 L607.2,126.5 L607.5,123.0 L607.9,129.2 L608.3,112.4 L608.7,129.5 L609.1,122.3 L609.5,129.8 L609.8,121.5 L610.2,115.5 L610.6,127.1 L611.0,125.9 L611.4,114.2 L611.7,129.5 L612.1,124.7 L612.5,119.2 L612.9,124.2 L613.3,118.7 L613.7,121.0 L614.0,117.6 L614.4,124.5 L614.8,132.9 L615.2,113.9 L615.6,124.5 L616.0,118.2 L616.3,113.8 L616.7,128.5 L617.1,123.5 L617.5,119.9 L617.9,126.9 L618.3,123.6 L618.6,121.4 L619.0,122.7 L619.4,117.0 L619.8,121.1 L620.2,117.6 L620.6,122.3 L620.9,112.9 L621.3,124.7 L621.7,120.3 L622.1,126.2 L622.5,116.1 L622.9,127.2 L623.2,130.4 L623.6,113.7 L624.0,122.5 L624.4,124.8 L624.8,119.7 L625.2,113.6 L625.5,113.3 L625.9,122.7 L626.3,125.1 L626.7,111.4 L627.1,115.8 L627.5,122.8 L627.8,125.3 L628.2,124.9 L628.6,119.1 L629.0,118.5 L629.4,118.0 L629.8,124.5 L630.1,131.0 L630.5,124.2 L630.9,123.2 L631.3,125.9 L631.7,128.7 L632.1,112.5 L632.4,121.7 L632.8,114.3 L633.2,118.3 L633.6,121.8 L634.0,120.1 L634.4,121.2 L634.7,119.4 L635.1,114.3 L635.5,108.2 L635.9,118.1 L636.3,123.2 L636.7,116.1 L637.0,117.1 L637.4,121.4 L637.8,119.7 L638.2,117.5 L638.6,115.4 L639.0,117.0 L639.3,119.6 L639.7,111.0 L640.1,122.2 L640.5,117.7 L640.9,119.7 L641.3,116.0 L641.6,116.4 L642.0,112.6 L642.4,119.9 L642.8,115.8 L643.2,118.0 L643.6,122.4 L643.9,123.5 L644.3,108.7 L644.7,123.1 L645.1,119.2 L645.5,114.5 L645.9,115.8 L646.2,107.7 L646.6,111.7 L647.0,111.4 L647.4,114.7 L647.8,113.5 L648.2,110.5 L648.5,118.4 L648.9,119.6 L649.3,113.4 L649.7,111.7 L650.1,120.7 L650.5,121.6 L650.8,116.4 L651.2,122.8 L651.6,115.2 L652.0,110.9 L652.4,119.7 L652.8,120.1 L653.1,119.3 L653.5,108.7 L653.9,125.8 L654.3,116.1 L654.7,124.0 L655.1,118.8 L655.4,117.8 L655.8,124.7 L656.2,125.1 L656.6,112.0 L657.0,113.3 L657.4,107.5 L657.7,114.7 L658.1,120.7 L658.5,113.3 L658.9,110.8 L659.3,114.3 L659.7,115.0 L660.0,126.7 L660.4,120.9 L660.8,124.6 L661.2,106.4 L661.6,115.3 L662.0,117.4 L662.3,116.8 L662.7,117.9 L663.1,122.6 L663.5,126.4 L663.9,124.6 L664.3,123.0 L664.6,119.1 L665.0,117.4 L665.4,114.3 L665.8,116.1 L666.2,120.8 L666.6,117.8 L666.9,111.4 L667.3,115.5 L667.7,117.9 L668.1,110.6 L668.5,129.3 L668.9,117.0 L669.2,119.8 L669.6,118.9 L670.0,126.9 L670.4,122.5 L670.8,110.7 L671.2,115.3 L671.5,121.1 L671.9,112.8 L672.3,107.5 L672.7,114.0 L673.1,114.6 L673.5,117.3 L673.8,110.0 L674.2,111.9 L674.6,112.0 L675.0,122.1 L675.4,116.1 L675.8,117.6 L676.1,117.0 L676.5,120.3 L676.9,118.5 L677.3,125.1 L677.7,116.6 L678.1,123.2 L678.4,114.6 L678.8,122.0 L679.2,113.8 L679.6,125.5 L680.0,111.9 L680.4,121.3 L680.7,126.8 L681.1,120.9 L681.5,113.5 L681.9,111.3 L682.3,118.4 L682.7,127.1 L683.0,108.6 L683.4,116.2 L683.8,113.0 L684.2,113.2 L684.6,116.6 L685.0,121.3 L685.3,116.7 L685.7,120.1 L686.1,110.4 L686.5,108.1 L686.9,114.3 L687.3,118.0 L687.6,113.7 L688.0,120.1 L688.4,109.0 L688.8,111.6 L689.2,116.8 L689.6,108.8 L689.9,114.1 L690.3,121.9 L690.7,126.9 L691.1,116.4 L691.5,111.2 L691.9,113.3 L692.2,108.3 L692.6,111.6 L693.0,110.6 L693.4,124.3 L693.8,118.9 L694.2,108.3 L694.5,105.0 L694.9,120.6 L695.3,113.0 L695.7,119.8 L696.1,123.4 L696.5,114.0 L696.8,105.1 L697.2,114.3 L697.6,117.0 L698.0,118.5 L698.4,108.7 L698.8,112.1 L699.1,111.0 L699.5,118.3 L699.9,112.3 L700.3,107.1 L700.7,106.9 L701.1,113.9 L701.4,117.8 L701.8,118.1 L702.2,112.8 L702.6,110.9 L703.0,119.1 L703.4,113.0 L703.7,112.4 L704.1,113.9 L704.5,117.2 L704.9,114.3 L705.3,111.3 L705.7,122.6 L706.0,116.9 L706.4,121.3 L706.8,109.5 L707.2,118.3 L707.6,117.6 L708.0,114.8 L708.3,115.4 L708.7,106.8 L709.1,111.5 L709.5,116.0 L709.9,114.6 L710.3,107.6 L710.6,120.6 L711.0,120.3 L711.4,108.4 L711.8,108.0 L712.2,114.5 L712.6,116.7 L712.9,118.8 L713.3,110.6 L713.7,111.4 L714.1,107.6 L714.5,112.9 L714.9,110.1 L715.2,118.1 L715.6,111.1 L716.0,114.3 L716.4,114.1 L716.8,110.5 L717.2,111.7 L717.5,114.3 L717.9,113.0 L718.3,110.9 L718.7,108.9 L719.1,112.4 L719.5,107.5 L719.8,109.9 L720.2,107.2 L720.6,107.2 L721.0,113.2 L721.4,105.2 L721.8,119.7 L722.1,106.0 L722.5,108.2 L722.9,105.3 L723.3,119.6 L723.7,105.5 L724.1,112.9 L724.4,116.1 L724.8,110.8 L725.2,105.1 L725.6,109.3 L726.0,115.1 L726.4,113.7 L726.7,110.4 L727.1,115.1 L727.5,104.2 L727.9,110.6 L728.3,107.2 L728.7,109.1 L729.0,106.9 L729.4,116.8 L729.8,105.8 L730.2,104.5 L730.6,117.7 L731.0,108.1 L731.3,103.1 L731.7,109.4 L732.1,113.8 L732.5,110.7 L732.9,104.7 L733.3,109.3 L733.6,105.8 L734.0,104.6 L734.4,108.5 L734.8,99.7 L735.2,111.5 L735.6,107.2 L735.9,114.0 L736.3,113.6 L736.7,113.6 L737.1,110.6 L737.5,108.7 L737.9,117.8 L738.2,114.1 L738.6,121.6 L739.0,110.0 L739.4,121.8 L739.8,114.2 L740.2,114.9 L740.5,111.5 L740.9,108.8 L741.3,104.9 L741.7,100.6 L742.1,103.8 L742.5,111.9 L742.8,117.9 L743.2,116.0 L743.6,118.2 L744.0,105.0 L744.4,111.8 L744.8,99.9 L745.1,109.7 L745.5,104.7 L745.9,111.6 L746.3,107.5 L746.7,106.5 L747.1,105.8 L747.4,107.4 L747.8,105.3 L748.2,109.9 L748.6,113.0 L749.0,111.1 L749.4,112.8 L749.7,109.7 L750.1,102.0 L750.5,106.0 L750.9,113.3 L751.3,107.6 L751.7,110.0 L752.0,111.3 L752.4,108.2 L752.8,107.4 L753.2,112.9 L753.6,112.7 L754.0,101.2 L754.3,105.7 L754.7,96.5 L755.1,102.8 L755.5,110.6 L755.9,110.9 L756.3,99.9 L756.6,105.1 L757.0,108.5 L757.4,112.6 L757.8,111.2 L758.2,99.3 L758.6,113.2 L758.9,102.7 L759.3,105.2 L759.7,100.8 L760.1,103.1 L760.5,86.5 L760.9,109.9 L761.2,101.7 L761.6,98.4 L762.0,102.6 L762.4,102.1 L762.8,96.1 L763.2,103.0 L763.5,108.5 L763.9,94.3 L764.3,112.7 L764.7,109.7 L765.1,105.5 L765.5,105.8 L765.8,98.2 L766.2,97.8 L766.6,102.2 L767.0,108.7 L767.4,106.2 L767.8,97.4 L768.1,101.8 L768.5,99.2 L768.9,99.8 L769.3,108.6 L769.7,124.1 L770.1,100.9 L770.4,106.2 L770.8,108.5 L771.2,110.3 L771.6,103.8 L772.0,109.7 L772.4,99.8 L772.7,107.1 L773.1,107.7 L773.5,106.2 L773.9,101.6 L774.3,98.4 L774.7,104.4 L775.0,106.0 L775.4,103.7 L775.8,102.3 L776.2,107.1 L776.6,91.4 L777.0,97.3 L777.3,105.5 L777.7,107.8 L778.1,103.5 L778.5,101.2 L778.9,106.2 L779.3,103.6 L779.6,97.8 L780.0,102.9 L780.4,103.6 L780.8,109.7 L781.2,109.0 L781.6,103.6 L781.9,93.7 L782.3,102.9 L782.7,95.3 L783.1,102.9 L783.5,100.7 L783.9,102.9 L784.2,99.2 L784.6,98.4 L785.0,106.2 L785.4,94.9 L785.8,99.7 L786.2,99.7 L786.5,97.2 L786.9,92.7 L787.3,102.7 L787.7,99.9 L788.1,103.4 L788.5,94.3 L788.8,100.4 L789.2,93.7 L789.6,101.2 L790.0,105.5 L790.4,105.5 L790.8,107.8 L791.1,102.1 L791.5,103.2 L791.9,101.9 L792.3,93.5 L792.7,99.4 L793.1,96.8 L793.4,95.3 L793.8,100.8 L794.2,92.9 L794.6,98.9 L795.0,105.1 L795.4,101.8 L795.7,92.2 L796.1,96.1 L796.5,107.8 L796.9,103.1 L797.3,105.3 L797.7,103.4 L798.0,99.1 L798.4,106.6 L798.8,101.3 L799.2,98.1 L799.6,96.9 L800.0,100.5 L800.3,104.9 L800.7,104.0 L801.1,104.1 L801.5,109.5 L801.9,102.1 L802.3,94.0 L802.6,101.6 L803.0,102.8 L803.4,94.9 L803.8,95.3 L804.2,99.3 L804.6,99.3 L804.9,98.3 L805.3,100.1 L805.7,108.7 L806.1,97.0 L806.5,105.6 L806.9,101.5 L807.2,104.9 L807.6,101.1 L808.0,104.4 L808.4,115.1 L808.8,95.4 L809.2,99.4 L809.5,96.7 L809.9,102.9 L810.3,111.5 L810.7,99.6 L811.1,101.8 L811.5,97.8 L811.8,100.5 L812.2,107.4 L812.6,101.8 L813.0,104.9 L813.4,103.2 L813.8,98.3 L814.1,105.9 L814.5,98.8 L814.9,103.0 L815.3,99.6 L815.7,99.1 L816.1,106.7 L816.4,100.6 L816.8,111.9 L817.2,98.8 L817.6,103.1 L818.0,109.4 L818.4,102.5 L818.7,106.1 L819.1,91.2 L819.5,97.0 L819.9,101.0 L820.3,110.2 L820.7,100.0 L821.0,99.5 L821.4,100.0 L821.8,93.6 L822.2,99.9 L822.6,99.6 L823.0,93.8 L823.3,97.8 L823.7,96.3 L824.1,97.0 L824.5,102.2 L824.9,91.8 L825.3,103.6 L825.6,92.9 L826.0,93.5 L826.4,100.1 L826.8,101.8 L827.2,105.5 L827.6,103.6 L827.9,95.7 L828.3,106.7 L828.7,99.3 L829.1,98.4 L829.5,96.2 L829.9,102.4 L830.2,100.4 L830.6,101.9 L831.0,100.5 L831.4,100.4 L831.8,105.1 L832.2,103.4 L832.5,94.9 L832.9,89.5 L833.3,99.9 L833.7,98.2 L834.1,92.8 L834.5,94.1 L834.8,102.0 L835.2,104.1 L835.6,99.4 L836.0,103.1 L836.4,98.1 L836.8,105.5 L837.1,92.1 L837.5,99.4 L837.9,93.0 L838.3,101.1 L838.7,101.1 L839.1,96.6 L839.4,96.7 L839.8,95.9 L840.2,109.3 L840.6,104.5 L841.0,101.3 L841.4,97.0 L841.7,99.5 L842.1,103.8 L842.5,96.7 L842.9,103.3 L843.3,100.8 L843.7,103.5 L844.0,94.4 L844.4,101.0 L844.8,93.9 L845.2,101.7 L845.6,90.7 L846.0,89.4 L846.3,95.5 L846.7,92.6 L847.1,96.2 L847.5,92.9 L847.9,99.5 L848.3,95.0 L848.6,97.3 L849.0,95.8 L849.4,96.6 L849.8,92.7 L850.2,102.7 L850.6,98.4 L850.9,99.0 L851.3,97.4 L851.7,93.5 L852.1,93.4 L852.5,96.2 L852.9,96.5 L853.2,97.1 L853.6,87.2 L854.0,99.1 L854.4,91.7 L854.8,107.0 L855.2,93.9 L855.5,97.7 L855.9,99.4 L856.3,105.7 L856.7,103.8 L857.1,90.9 L857.5,94.0 L857.8,94.7 L858.2,93.9 L858.6,101.9 L859.0,100.3 L859.4,101.9 L859.8,97.4 L860.1,89.7 L860.5,98.2 L860.9,95.1 L861.3,97.4 L861.7,93.0 L862.1,92.4 L862.4,91.8 L862.8,90.3 L863.2,91.6 L863.6,100.6 L864.0,98.7 L864.4,89.4 L864.7,92.7 L865.1,87.3 L865.5,88.9 L865.9,93.5 L866.3,94.3 L866.7,94.6 L867.0,85.9 L867.4,96.2 L867.8,101.0 L868.2,95.8 L868.6,103.1 L869.0,89.1 L869.3,90.6 L869.7,97.0 L870.1,93.5 L870.5,93.3 L870.9,97.0 L871.3,94.3 L871.6,91.4 L872.0,87.6 L872.4,98.7 L872.8,93.8 L873.2,90.8 L873.6,91.9 L873.9,97.8 L874.3,97.2 L874.7,94.3 L875.1,95.3 L875.5,90.9 L875.9,100.0 L876.2,89.2 L876.6,100.5 L877.0,85.8 L877.4,93.6 L877.8,91.7 L878.2,96.3 L878.5,89.7 L878.9,100.7 L879.3,93.6 L879.7,94.6 L880.1,91.7 L880.5,95.7 L880.8,89.6 L881.2,88.2 L881.6,93.2 L882.0,91.3 L882.4,92.4 L882.8,94.5 L883.1,83.6 L883.5,98.0 L883.9,94.0 L884.3,100.3 L884.7,100.6 L885.1,90.6 L885.4,104.7 L885.8,95.0 L886.2,97.5 L886.6,86.2 L887.0,91.3 L887.4,87.8 L887.7,91.7 L888.1,86.3 L888.5,98.2 L888.9,90.3 L889.3,97.6 L889.7,89.4 L890.0,88.7 L890.4,83.4 L890.8,96.0 L891.2,93.6 L891.6,84.1 L892.0,90.2 L892.3,92.9 L892.7,83.8 L893.1,100.1 L893.5,90.2 L893.9,93.6 L894.3,86.5 L894.6,97.4 L895.0,95.5 L895.4,91.8 L895.8,87.9 L896.2,90.0 L896.6,91.4 L896.9,85.2 L897.3,95.1 L897.7,93.5 L898.1,90.6 L898.5,96.5 L898.9,87.2"/>
</g>
</svg>
</body></html>
